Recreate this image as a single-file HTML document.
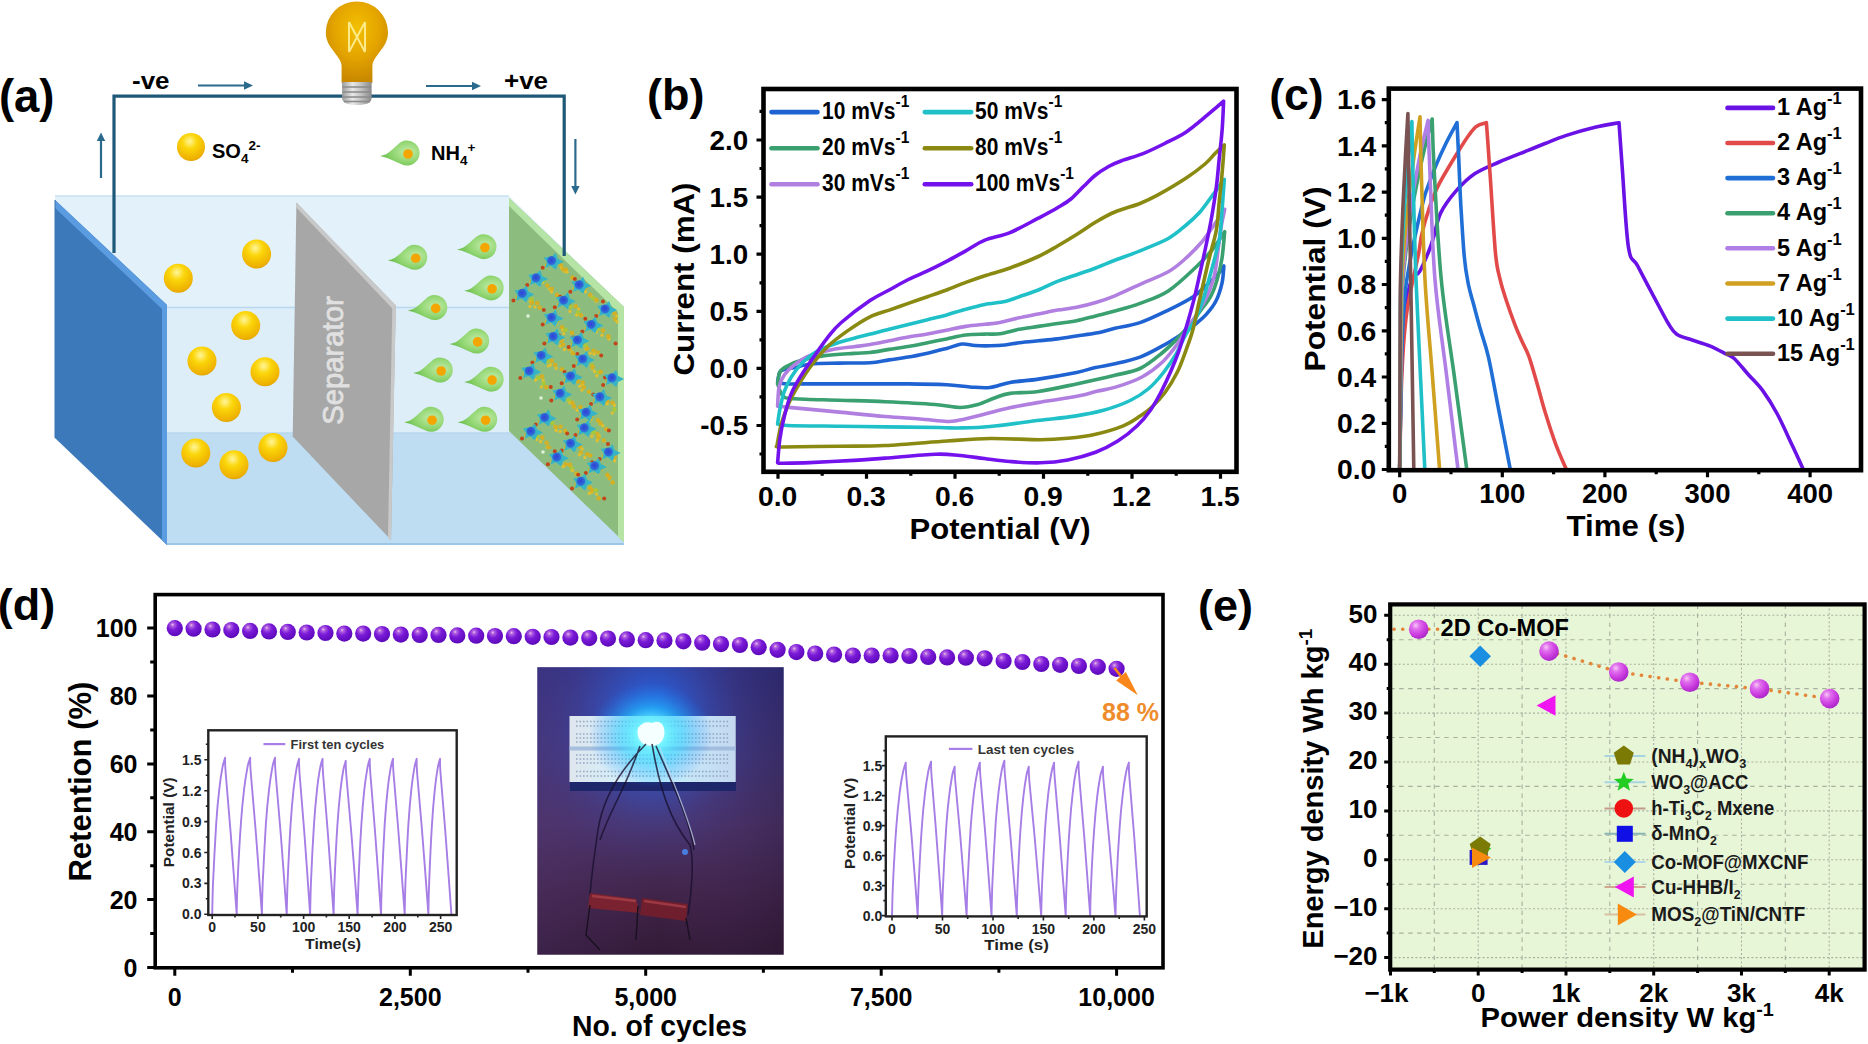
<!DOCTYPE html>
<html><head><meta charset="utf-8"><title>Figure</title>
<style>
html,body{margin:0;padding:0;background:#fff;}
body{width:1868px;height:1044px;overflow:hidden;}
svg{display:block;font-family:'Liberation Sans', Arial, Helvetica, sans-serif;}
</style></head>
<body>
<svg width="1868" height="1044" viewBox="0 0 1868 1044">
<defs>
<radialGradient id="gball" cx="0.45" cy="0.3" r="0.75">
  <stop offset="0" stop-color="#fff59a"/>
  <stop offset="0.35" stop-color="#fbd60a"/>
  <stop offset="0.85" stop-color="#eeb000"/>
  <stop offset="1" stop-color="#d49a00"/>
</radialGradient>
<radialGradient id="gdrop" cx="0.7" cy="0.45" r="0.7">
  <stop offset="0" stop-color="#c2ecA8"/>
  <stop offset="0.6" stop-color="#8ed46e"/>
  <stop offset="1" stop-color="#66bb4c"/>
</radialGradient>
<radialGradient id="gnode" cx="0.45" cy="0.45" r="0.6">
  <stop offset="0" stop-color="#3040d8"/>
  <stop offset="0.7" stop-color="#2f6ad6"/>
  <stop offset="1" stop-color="#3498d0"/>
</radialGradient>
<radialGradient id="gbulb" cx="0.5" cy="0.33" r="0.65">
  <stop offset="0" stop-color="#f2c000"/>
  <stop offset="0.55" stop-color="#e4a400"/>
  <stop offset="1" stop-color="#c88800"/>
</radialGradient>
<linearGradient id="gbase" x1="0" x2="1" y1="0" y2="0">
  <stop offset="0" stop-color="#9a9a9a"/>
  <stop offset="0.35" stop-color="#e8e8e8"/>
  <stop offset="0.6" stop-color="#c8c8c8"/>
  <stop offset="1" stop-color="#8a8a8a"/>
</linearGradient>

<radialGradient id="gpdot" cx="0.4" cy="0.32" r="0.7" fx="0.36" fy="0.28">
  <stop offset="0" stop-color="#f0c0e8"/>
  <stop offset="0.15" stop-color="#b060e0"/>
  <stop offset="0.45" stop-color="#7a1ad8"/>
  <stop offset="1" stop-color="#5a08b8"/>
</radialGradient>
<linearGradient id="gphoto" x1="0" x2="0" y1="0" y2="1">
  <stop offset="0" stop-color="#303080"/>
  <stop offset="0.3" stop-color="#403678"/>
  <stop offset="0.55" stop-color="#4a3266"/>
  <stop offset="0.8" stop-color="#402448"/>
  <stop offset="1" stop-color="#321a36"/>
</linearGradient>
<radialGradient id="gphoto2" cx="0.46" cy="0.2" r="0.55">
  <stop offset="0" stop-color="#1f80ff" stop-opacity="1"/>
  <stop offset="0.3" stop-color="#2a66e8" stop-opacity="0.6"/>
  <stop offset="0.65" stop-color="#3a50c0" stop-opacity="0.2"/>
  <stop offset="1" stop-color="#3a3080" stop-opacity="0"/>
</radialGradient>
<linearGradient id="gphoto3" x1="0" x2="1" y1="0" y2="0">
  <stop offset="0" stop-color="#5a3a80" stop-opacity="0.25"/>
  <stop offset="0.5" stop-color="#5a3a80" stop-opacity="0"/>
  <stop offset="1" stop-color="#201030" stop-opacity="0.25"/>
</linearGradient>
<linearGradient id="gboard" x1="0" x2="1" y1="0" y2="0">
  <stop offset="0" stop-color="#dfe6ee"/>
  <stop offset="0.3" stop-color="#d4eef8"/>
  <stop offset="0.5" stop-color="#bff4ff"/>
  <stop offset="0.75" stop-color="#c6e4f6"/>
  <stop offset="1" stop-color="#c4d8f0"/>
</linearGradient>
<radialGradient id="gglow" cx="0.5" cy="0.5" r="0.5">
  <stop offset="0" stop-color="#ffffff" stop-opacity="1"/>
  <stop offset="0.25" stop-color="#6ff4ff" stop-opacity="0.95"/>
  <stop offset="0.55" stop-color="#20c8ff" stop-opacity="0.5"/>
  <stop offset="1" stop-color="#1a80ff" stop-opacity="0"/>
</radialGradient>

<radialGradient id="gsph" cx="0.35" cy="0.3" r="0.8">
  <stop offset="0" stop-color="#f8c8f4"/>
  <stop offset="0.25" stop-color="#e070ee"/>
  <stop offset="0.6" stop-color="#cc3ee0"/>
  <stop offset="1" stop-color="#a020c0"/>
</radialGradient>
</defs>
<rect width="1868" height="1044" fill="#fff"/>
<path d="M55,196 H509 L624,307 V544 H167 L55,438 Z" fill="#e3f1fb"/>
<path d="M160,307 H624 V433 H160 Z" fill="#ddeef9"/>
<path d="M160,433 H624 V544 H167 Z" fill="#bedcf2"/>
<path d="M55,196 H509" stroke="#c6e1f3" stroke-width="1.5"/>
<path d="M160,307.5 H624 M160,433 H624" stroke="#b9d8ee" stroke-width="1.5"/>
<path d="M167,544 H624" stroke="#9cc6e6" stroke-width="2"/>
<path d="M55,200 L167,305 V545 L55,438 Z" fill="#3c79bb"/>
<path d="M55,200 L167,305 V545 L162,540 V309 L55,208 Z" fill="#5b9be0"/>
<path d="M55,200 L55,438" stroke="#3a74b0" stroke-width="1"/>
<path d="M296.4,202.6 L395.8,305.6 L391,540 L292.7,436.6 Z" fill="#a7a7a7"/>
<path d="M296.4,202.6 L395.8,305.6 L391,540 L388,537 L392.3,308.5 L296.2,207.5 Z" fill="#c9c9c9"/>
<text x="342.8" y="360.5" font-size="29.5" font-weight="normal" fill="#e0e0e0" text-anchor="middle" textLength="128.5" lengthAdjust="spacingAndGlyphs" transform="rotate(-90 342.8 360.5)" stroke="#e0e0e0" stroke-width="0.8">Separator</text>
<path d="M509,198 L624,307 V542 L509,431 Z" fill="#8dbd7e"/>
<path d="M509,198 L624,307 V542 L618,537 V312 L509,206 Z" fill="#b5e4a4"/>
<circle cx="555.3" cy="262.3" r="2.0" fill="#c24418"/>
<circle cx="560.9" cy="265.2" r="2.3" fill="#d4b024"/>
<circle cx="561.4" cy="267.7" r="1.7" fill="#e0c030"/>
<circle cx="563" cy="269.3" r="2.3" fill="#d4b024"/>
<circle cx="564.8" cy="271.6" r="1.7" fill="#e0c030"/>
<circle cx="566" cy="269.9" r="2.3" fill="#d4b024"/>
<circle cx="567.1" cy="272" r="1.7" fill="#e0c030"/>
<circle cx="572.4" cy="277.6" r="2.3" fill="#d4b024"/>
<circle cx="574.9" cy="279.1" r="2.0" fill="#c24418"/>
<circle cx="542.7" cy="267.7" r="2" fill="#c24418"/>
<circle cx="546.7" cy="264.7" r="1.8" fill="#d4b024"/>
<circle cx="538.6" cy="276.8" r="2.0" fill="#c24418"/>
<circle cx="543.8" cy="280.3" r="2.3" fill="#a8c83a"/>
<circle cx="542.3" cy="282.4" r="1.7" fill="#e0c030"/>
<circle cx="547.3" cy="285.5" r="2.3" fill="#d4b024"/>
<circle cx="549.4" cy="289.1" r="1.7" fill="#e0c030"/>
<circle cx="551.8" cy="289.1" r="2.3" fill="#d4b024"/>
<circle cx="551.5" cy="292" r="1.7" fill="#e0c030"/>
<circle cx="557" cy="294.9" r="2.3" fill="#d4b024"/>
<circle cx="560.1" cy="296.8" r="2.0" fill="#c24418"/>
<circle cx="527.2" cy="284.9" r="2" fill="#c24418"/>
<circle cx="531.2" cy="281.9" r="1.8" fill="#d4b024"/>
<circle cx="582.3" cy="284.8" r="2.0" fill="#c24418"/>
<circle cx="586" cy="287.3" r="2.3" fill="#d4b024"/>
<circle cx="585.4" cy="291.8" r="1.7" fill="#e0c030"/>
<circle cx="590.1" cy="295" r="2.3" fill="#d4b024"/>
<circle cx="592.2" cy="297" r="1.7" fill="#e0c030"/>
<circle cx="593.2" cy="298.1" r="2.3" fill="#a8c83a"/>
<circle cx="596.1" cy="301.3" r="1.7" fill="#e0c030"/>
<circle cx="596.4" cy="300" r="2.3" fill="#d4b024"/>
<circle cx="603" cy="301.5" r="2.0" fill="#c24418"/>
<circle cx="570.3" cy="291.8" r="2" fill="#c24418"/>
<circle cx="574.3" cy="288.8" r="1.8" fill="#d4b024"/>
<circle cx="524.5" cy="293.9" r="2.0" fill="#c24418"/>
<circle cx="531.8" cy="299.3" r="2.3" fill="#a8c83a"/>
<circle cx="530.3" cy="301.6" r="1.7" fill="#e0c030"/>
<circle cx="531.9" cy="302.8" r="2.3" fill="#d4b024"/>
<circle cx="530" cy="306.5" r="1.7" fill="#e0c030"/>
<circle cx="537.2" cy="303.1" r="2.3" fill="#d4b024"/>
<circle cx="535" cy="307" r="1.7" fill="#e0c030"/>
<circle cx="539.7" cy="307.6" r="2.3" fill="#d4b024"/>
<circle cx="543.8" cy="310.1" r="2.0" fill="#c24418"/>
<circle cx="513.4" cy="300.4" r="2" fill="#c24418"/>
<circle cx="517.4" cy="297.4" r="1.8" fill="#d4b024"/>
<circle cx="569.4" cy="303.1" r="2.0" fill="#c24418"/>
<circle cx="570.5" cy="306.8" r="2.3" fill="#a8c83a"/>
<circle cx="569.9" cy="311.4" r="1.7" fill="#e0c030"/>
<circle cx="575.6" cy="306.2" r="2.3" fill="#d4b024"/>
<circle cx="578.6" cy="308.9" r="1.7" fill="#e0c030"/>
<circle cx="577.9" cy="312.9" r="2.3" fill="#a8c83a"/>
<circle cx="576.6" cy="315.1" r="1.7" fill="#e0c030"/>
<circle cx="581" cy="315.3" r="2.3" fill="#d4b024"/>
<circle cx="585.3" cy="318.7" r="2.0" fill="#c24418"/>
<circle cx="554.8" cy="307.3" r="2" fill="#c24418"/>
<circle cx="558.8" cy="304.3" r="1.8" fill="#d4b024"/>
<circle cx="608.4" cy="310.1" r="2.0" fill="#c24418"/>
<circle cx="614.6" cy="313.5" r="2.3" fill="#d4b024"/>
<circle cx="616.8" cy="316.1" r="1.7" fill="#e0c030"/>
<circle cx="615.1" cy="319" r="2.3" fill="#d4b024"/>
<circle cx="617" cy="321.7" r="1.7" fill="#e0c030"/>
<circle cx="596.2" cy="316" r="2" fill="#c24418"/>
<circle cx="600.2" cy="313" r="1.8" fill="#d4b024"/>
<circle cx="555.9" cy="318.5" r="2.0" fill="#c24418"/>
<circle cx="557.6" cy="319.9" r="2.3" fill="#d4b024"/>
<circle cx="556.1" cy="324" r="1.7" fill="#e0c030"/>
<circle cx="562" cy="327.2" r="2.3" fill="#d4b024"/>
<circle cx="562.6" cy="330" r="1.7" fill="#e0c030"/>
<circle cx="565.4" cy="329.9" r="2.3" fill="#a8c83a"/>
<circle cx="563.8" cy="333.6" r="1.7" fill="#e0c030"/>
<circle cx="571.9" cy="332.7" r="2.3" fill="#d4b024"/>
<circle cx="573.4" cy="337.6" r="2.0" fill="#c24418"/>
<circle cx="542.7" cy="324.6" r="2" fill="#c24418"/>
<circle cx="546.7" cy="321.6" r="1.8" fill="#d4b024"/>
<circle cx="594" cy="323.4" r="2.0" fill="#c24418"/>
<circle cx="598" cy="328.9" r="2.3" fill="#a8c83a"/>
<circle cx="596.1" cy="332" r="1.7" fill="#e0c030"/>
<circle cx="603" cy="330.6" r="2.3" fill="#d4b024"/>
<circle cx="602.1" cy="335.3" r="1.7" fill="#e0c030"/>
<circle cx="608.4" cy="336.5" r="2.3" fill="#d4b024"/>
<circle cx="608.9" cy="339" r="1.7" fill="#e0c030"/>
<circle cx="608.3" cy="336.6" r="2.3" fill="#d4b024"/>
<circle cx="615.6" cy="343.4" r="2.0" fill="#c24418"/>
<circle cx="582.4" cy="331.5" r="2" fill="#c24418"/>
<circle cx="586.4" cy="328.5" r="1.8" fill="#d4b024"/>
<circle cx="559" cy="335.5" r="2.0" fill="#c24418"/>
<circle cx="561.5" cy="341.1" r="2.3" fill="#d4b024"/>
<circle cx="560.4" cy="346.1" r="1.7" fill="#e0c030"/>
<circle cx="563" cy="344.8" r="2.3" fill="#d4b024"/>
<circle cx="564.4" cy="349.5" r="1.7" fill="#e0c030"/>
<circle cx="569.4" cy="348.9" r="2.3" fill="#d4b024"/>
<circle cx="571.9" cy="351.9" r="1.7" fill="#e0c030"/>
<circle cx="572.9" cy="353.2" r="2.3" fill="#d4b024"/>
<circle cx="577.4" cy="354.1" r="2.0" fill="#c24418"/>
<circle cx="544.4" cy="343.6" r="2" fill="#c24418"/>
<circle cx="548.4" cy="340.6" r="1.8" fill="#d4b024"/>
<circle cx="582.5" cy="343.1" r="2.0" fill="#c24418"/>
<circle cx="585.4" cy="345.2" r="2.3" fill="#a8c83a"/>
<circle cx="585.9" cy="349.1" r="1.7" fill="#e0c030"/>
<circle cx="587.2" cy="348.6" r="2.3" fill="#d4b024"/>
<circle cx="590.2" cy="353.3" r="1.7" fill="#e0c030"/>
<circle cx="593.5" cy="350.7" r="2.3" fill="#d4b024"/>
<circle cx="594" cy="354" r="1.7" fill="#e0c030"/>
<circle cx="597.7" cy="352.5" r="2.3" fill="#d4b024"/>
<circle cx="601.2" cy="355.5" r="2.0" fill="#c24418"/>
<circle cx="568.6" cy="347" r="2" fill="#c24418"/>
<circle cx="572.6" cy="344" r="1.8" fill="#d4b024"/>
<circle cx="545.6" cy="356.7" r="2.0" fill="#c24418"/>
<circle cx="547.8" cy="361.1" r="2.3" fill="#a8c83a"/>
<circle cx="548.5" cy="365.9" r="1.7" fill="#e0c030"/>
<circle cx="551.7" cy="361" r="2.3" fill="#d4b024"/>
<circle cx="550.5" cy="365" r="1.7" fill="#e0c030"/>
<circle cx="555.2" cy="365.1" r="2.3" fill="#d4b024"/>
<circle cx="556.2" cy="368.4" r="1.7" fill="#e0c030"/>
<circle cx="561.8" cy="369.2" r="2.3" fill="#d4b024"/>
<circle cx="564.6" cy="371.9" r="2.0" fill="#c24418"/>
<circle cx="532.4" cy="362.5" r="2" fill="#c24418"/>
<circle cx="536.4" cy="359.5" r="1.8" fill="#d4b024"/>
<circle cx="586.3" cy="361.8" r="2.0" fill="#c24418"/>
<circle cx="592" cy="365.5" r="2.3" fill="#a8c83a"/>
<circle cx="592.5" cy="368.5" r="1.7" fill="#e0c030"/>
<circle cx="592.6" cy="366.9" r="2.3" fill="#d4b024"/>
<circle cx="594.6" cy="371.5" r="1.7" fill="#e0c030"/>
<circle cx="598.7" cy="372.5" r="2.3" fill="#a8c83a"/>
<circle cx="596.7" cy="375.8" r="1.7" fill="#e0c030"/>
<circle cx="600.7" cy="372.1" r="2.3" fill="#d4b024"/>
<circle cx="605" cy="377.5" r="2.0" fill="#c24418"/>
<circle cx="573.8" cy="366" r="2" fill="#c24418"/>
<circle cx="577.8" cy="363" r="1.8" fill="#d4b024"/>
<circle cx="533" cy="371.4" r="2.0" fill="#c24418"/>
<circle cx="538.2" cy="378" r="2.3" fill="#a8c83a"/>
<circle cx="535.6" cy="380.1" r="1.7" fill="#e0c030"/>
<circle cx="542.1" cy="376.6" r="2.3" fill="#d4b024"/>
<circle cx="543.3" cy="380.4" r="1.7" fill="#e0c030"/>
<circle cx="543.6" cy="383.7" r="2.3" fill="#a8c83a"/>
<circle cx="541.4" cy="387.1" r="1.7" fill="#e0c030"/>
<circle cx="546.2" cy="387.2" r="2.3" fill="#d4b024"/>
<circle cx="550.8" cy="387.1" r="2.0" fill="#c24418"/>
<circle cx="520.3" cy="378" r="2" fill="#c24418"/>
<circle cx="524.3" cy="375" r="1.8" fill="#d4b024"/>
<circle cx="572.6" cy="378.2" r="2.0" fill="#c24418"/>
<circle cx="578" cy="381.5" r="2.3" fill="#d4b024"/>
<circle cx="579.8" cy="386.3" r="1.7" fill="#e0c030"/>
<circle cx="582.7" cy="382.6" r="2.3" fill="#d4b024"/>
<circle cx="582.6" cy="385.2" r="1.7" fill="#e0c030"/>
<circle cx="583.8" cy="387.3" r="2.3" fill="#d4b024"/>
<circle cx="581.9" cy="390.1" r="1.7" fill="#e0c030"/>
<circle cx="588.9" cy="391.7" r="2.3" fill="#d4b024"/>
<circle cx="593.3" cy="394.6" r="2.0" fill="#c24418"/>
<circle cx="561.7" cy="383.2" r="2" fill="#c24418"/>
<circle cx="565.7" cy="380.2" r="1.8" fill="#d4b024"/>
<circle cx="616.9" cy="378.7" r="2.0" fill="#c24418"/>
<circle cx="603.1" cy="384.9" r="2" fill="#c24418"/>
<circle cx="607.1" cy="381.9" r="1.8" fill="#d4b024"/>
<circle cx="564.3" cy="396.6" r="2.0" fill="#c24418"/>
<circle cx="569" cy="400.2" r="2.3" fill="#a8c83a"/>
<circle cx="569.9" cy="402.9" r="1.7" fill="#e0c030"/>
<circle cx="572.5" cy="402.9" r="2.3" fill="#d4b024"/>
<circle cx="573.3" cy="407.1" r="1.7" fill="#e0c030"/>
<circle cx="574.2" cy="406.6" r="2.3" fill="#d4b024"/>
<circle cx="577.1" cy="410.3" r="1.7" fill="#e0c030"/>
<circle cx="580.3" cy="407.1" r="2.3" fill="#d4b024"/>
<circle cx="584.5" cy="413" r="2.0" fill="#c24418"/>
<circle cx="551.3" cy="400.4" r="2" fill="#c24418"/>
<circle cx="555.3" cy="397.4" r="1.8" fill="#d4b024"/>
<circle cx="603.2" cy="396.1" r="2.0" fill="#c24418"/>
<circle cx="607.3" cy="401.8" r="2.3" fill="#d4b024"/>
<circle cx="607.2" cy="403.9" r="1.7" fill="#e0c030"/>
<circle cx="612.5" cy="402.7" r="2.3" fill="#d4b024"/>
<circle cx="614.3" cy="405.2" r="1.7" fill="#e0c030"/>
<circle cx="614.4" cy="409.6" r="2.3" fill="#a8c83a"/>
<circle cx="612.3" cy="413.1" r="1.7" fill="#e0c030"/>
<circle cx="591" cy="403.9" r="2" fill="#c24418"/>
<circle cx="595" cy="400.9" r="1.8" fill="#d4b024"/>
<circle cx="589.9" cy="416" r="2.0" fill="#c24418"/>
<circle cx="592.1" cy="415.6" r="2.3" fill="#d4b024"/>
<circle cx="590.8" cy="419.8" r="1.7" fill="#e0c030"/>
<circle cx="598" cy="420.4" r="2.3" fill="#d4b024"/>
<circle cx="600.1" cy="424.1" r="1.7" fill="#e0c030"/>
<circle cx="600.5" cy="423.1" r="2.3" fill="#d4b024"/>
<circle cx="602.9" cy="425.7" r="1.7" fill="#e0c030"/>
<circle cx="606.4" cy="429.3" r="2.3" fill="#d4b024"/>
<circle cx="608.9" cy="430.6" r="2.0" fill="#c24418"/>
<circle cx="577.2" cy="419.4" r="2" fill="#c24418"/>
<circle cx="581.2" cy="416.4" r="1.8" fill="#d4b024"/>
<circle cx="547.4" cy="419.1" r="2.0" fill="#c24418"/>
<circle cx="552.3" cy="422.7" r="2.3" fill="#a8c83a"/>
<circle cx="555.1" cy="426.3" r="1.7" fill="#e0c030"/>
<circle cx="555.7" cy="427" r="2.3" fill="#d4b024"/>
<circle cx="556.1" cy="430.5" r="1.7" fill="#e0c030"/>
<circle cx="560.6" cy="426.7" r="2.3" fill="#d4b024"/>
<circle cx="560.1" cy="431.5" r="1.7" fill="#e0c030"/>
<circle cx="565.3" cy="431" r="2.3" fill="#d4b024"/>
<circle cx="567.2" cy="433.6" r="2.0" fill="#c24418"/>
<circle cx="535.8" cy="424.6" r="2" fill="#c24418"/>
<circle cx="539.8" cy="421.6" r="1.8" fill="#d4b024"/>
<circle cx="588" cy="430.8" r="2.0" fill="#c24418"/>
<circle cx="593.6" cy="432.4" r="2.3" fill="#a8c83a"/>
<circle cx="591.8" cy="436.3" r="1.7" fill="#e0c030"/>
<circle cx="597.5" cy="434" r="2.3" fill="#d4b024"/>
<circle cx="599.2" cy="436" r="1.7" fill="#e0c030"/>
<circle cx="598.3" cy="437.8" r="2.3" fill="#d4b024"/>
<circle cx="597.2" cy="440.8" r="1.7" fill="#e0c030"/>
<circle cx="603.8" cy="440.5" r="2.3" fill="#d4b024"/>
<circle cx="608" cy="443.9" r="2.0" fill="#c24418"/>
<circle cx="575.5" cy="434.9" r="2" fill="#c24418"/>
<circle cx="579.5" cy="431.9" r="1.8" fill="#d4b024"/>
<circle cx="534.8" cy="431.5" r="2.0" fill="#c24418"/>
<circle cx="537.3" cy="436.2" r="2.3" fill="#a8c83a"/>
<circle cx="536.6" cy="439.4" r="1.7" fill="#e0c030"/>
<circle cx="542.4" cy="437.6" r="2.3" fill="#d4b024"/>
<circle cx="540.6" cy="441.5" r="1.7" fill="#e0c030"/>
<circle cx="546.6" cy="442.8" r="2.3" fill="#d4b024"/>
<circle cx="547.3" cy="447.4" r="1.7" fill="#e0c030"/>
<circle cx="548.7" cy="447.2" r="2.3" fill="#d4b024"/>
<circle cx="554.8" cy="451.3" r="2.0" fill="#c24418"/>
<circle cx="522" cy="438.4" r="2" fill="#c24418"/>
<circle cx="526" cy="435.4" r="1.8" fill="#d4b024"/>
<circle cx="573.7" cy="443.8" r="2.0" fill="#c24418"/>
<circle cx="579.9" cy="446.6" r="2.3" fill="#d4b024"/>
<circle cx="582.2" cy="449" r="1.7" fill="#e0c030"/>
<circle cx="580.9" cy="452.5" r="2.3" fill="#d4b024"/>
<circle cx="579.5" cy="454.8" r="1.7" fill="#e0c030"/>
<circle cx="587.1" cy="454.3" r="2.3" fill="#d4b024"/>
<circle cx="584.8" cy="457.5" r="1.7" fill="#e0c030"/>
<circle cx="590.2" cy="455.5" r="2.3" fill="#d4b024"/>
<circle cx="592.1" cy="462.2" r="2.0" fill="#c24418"/>
<circle cx="561.7" cy="450.4" r="2" fill="#c24418"/>
<circle cx="565.7" cy="447.4" r="1.8" fill="#d4b024"/>
<circle cx="614" cy="455.8" r="2.0" fill="#c24418"/>
<circle cx="614.6" cy="456.8" r="2.3" fill="#d4b024"/>
<circle cx="614.6" cy="460.8" r="1.7" fill="#e0c030"/>
<circle cx="599.6" cy="459.1" r="2" fill="#c24418"/>
<circle cx="603.6" cy="456.1" r="1.8" fill="#d4b024"/>
<circle cx="559.4" cy="457" r="2.0" fill="#c24418"/>
<circle cx="565.8" cy="464.3" r="2.3" fill="#d4b024"/>
<circle cx="563.4" cy="466.5" r="1.7" fill="#e0c030"/>
<circle cx="570" cy="464.9" r="2.3" fill="#d4b024"/>
<circle cx="571.6" cy="467.9" r="1.7" fill="#e0c030"/>
<circle cx="571.8" cy="468.5" r="2.3" fill="#a8c83a"/>
<circle cx="572.4" cy="470.6" r="1.7" fill="#e0c030"/>
<circle cx="576.5" cy="473.5" r="2.3" fill="#d4b024"/>
<circle cx="578.2" cy="474.8" r="2.0" fill="#c24418"/>
<circle cx="547.9" cy="464.2" r="2" fill="#c24418"/>
<circle cx="551.9" cy="461.2" r="1.8" fill="#d4b024"/>
<circle cx="599.5" cy="466.7" r="2.0" fill="#c24418"/>
<circle cx="601.1" cy="468.8" r="2.3" fill="#d4b024"/>
<circle cx="598.2" cy="473.5" r="1.7" fill="#e0c030"/>
<circle cx="607.3" cy="474.9" r="2.3" fill="#d4b024"/>
<circle cx="609.4" cy="478.7" r="1.7" fill="#e0c030"/>
<circle cx="609.5" cy="477.6" r="2.3" fill="#d4b024"/>
<circle cx="612.4" cy="482.1" r="1.7" fill="#e0c030"/>
<circle cx="612.6" cy="482.5" r="2.3" fill="#d4b024"/>
<circle cx="585.8" cy="472.9" r="2" fill="#c24418"/>
<circle cx="589.8" cy="469.9" r="1.8" fill="#d4b024"/>
<circle cx="586" cy="482.2" r="2.0" fill="#c24418"/>
<circle cx="590.1" cy="487.9" r="2.3" fill="#d4b024"/>
<circle cx="591.7" cy="492.2" r="1.7" fill="#e0c030"/>
<circle cx="591.9" cy="490.4" r="2.3" fill="#d4b024"/>
<circle cx="589.3" cy="493.5" r="1.7" fill="#e0c030"/>
<circle cx="595.9" cy="490.2" r="2.3" fill="#a8c83a"/>
<circle cx="596.7" cy="494.1" r="1.7" fill="#e0c030"/>
<circle cx="598.7" cy="498.2" r="2.3" fill="#d4b024"/>
<circle cx="604.2" cy="498.5" r="2.0" fill="#c24418"/>
<circle cx="572" cy="488.4" r="2" fill="#c24418"/>
<circle cx="576" cy="485.4" r="1.8" fill="#d4b024"/>
<path d="M550.7,257.7 l5,-5 l2,6 l6,3 l-6,3 l-2,5 l-5,-4 l-5,2 l1,-6 l-3,-4 l5,-1 Z" fill="#35b4c8"/>
<circle cx="551.7" cy="260.7" r="4.6" fill="url(#gnode)"/>
<path d="M535.2,274.9 l5,-5 l2,6 l6,3 l-6,3 l-2,5 l-5,-4 l-5,2 l1,-6 l-3,-4 l5,-1 Z" fill="#35b4c8"/>
<circle cx="536.2" cy="277.9" r="4.6" fill="url(#gnode)"/>
<path d="M578.3,281.8 l5,-5 l2,6 l6,3 l-6,3 l-2,5 l-5,-4 l-5,2 l1,-6 l-3,-4 l5,-1 Z" fill="#35b4c8"/>
<circle cx="579.3" cy="284.8" r="4.6" fill="url(#gnode)"/>
<path d="M521.4,290.4 l5,-5 l2,6 l6,3 l-6,3 l-2,5 l-5,-4 l-5,2 l1,-6 l-3,-4 l5,-1 Z" fill="#35b4c8"/>
<circle cx="522.4" cy="293.4" r="4.6" fill="url(#gnode)"/>
<path d="M562.8,297.3 l5,-5 l2,6 l6,3 l-6,3 l-2,5 l-5,-4 l-5,2 l1,-6 l-3,-4 l5,-1 Z" fill="#35b4c8"/>
<circle cx="563.8" cy="300.3" r="4.6" fill="url(#gnode)"/>
<path d="M604.2,306 l5,-5 l2,6 l6,3 l-6,3 l-2,5 l-5,-4 l-5,2 l1,-6 l-3,-4 l5,-1 Z" fill="#35b4c8"/>
<circle cx="605.2" cy="309" r="4.6" fill="url(#gnode)"/>
<path d="M550.7,314.6 l5,-5 l2,6 l6,3 l-6,3 l-2,5 l-5,-4 l-5,2 l1,-6 l-3,-4 l5,-1 Z" fill="#35b4c8"/>
<circle cx="551.7" cy="317.6" r="4.6" fill="url(#gnode)"/>
<path d="M590.4,321.5 l5,-5 l2,6 l6,3 l-6,3 l-2,5 l-5,-4 l-5,2 l1,-6 l-3,-4 l5,-1 Z" fill="#35b4c8"/>
<circle cx="591.4" cy="324.5" r="4.6" fill="url(#gnode)"/>
<path d="M552.4,333.6 l5,-5 l2,6 l6,3 l-6,3 l-2,5 l-5,-4 l-5,2 l1,-6 l-3,-4 l5,-1 Z" fill="#35b4c8"/>
<circle cx="553.4" cy="336.6" r="4.6" fill="url(#gnode)"/>
<path d="M576.6,337 l5,-5 l2,6 l6,3 l-6,3 l-2,5 l-5,-4 l-5,2 l1,-6 l-3,-4 l5,-1 Z" fill="#35b4c8"/>
<circle cx="577.6" cy="340" r="4.6" fill="url(#gnode)"/>
<path d="M540.4,352.5 l5,-5 l2,6 l6,3 l-6,3 l-2,5 l-5,-4 l-5,2 l1,-6 l-3,-4 l5,-1 Z" fill="#35b4c8"/>
<circle cx="541.4" cy="355.5" r="4.6" fill="url(#gnode)"/>
<path d="M581.8,356 l5,-5 l2,6 l6,3 l-6,3 l-2,5 l-5,-4 l-5,2 l1,-6 l-3,-4 l5,-1 Z" fill="#35b4c8"/>
<circle cx="582.8" cy="359" r="4.6" fill="url(#gnode)"/>
<path d="M528.3,368 l5,-5 l2,6 l6,3 l-6,3 l-2,5 l-5,-4 l-5,2 l1,-6 l-3,-4 l5,-1 Z" fill="#35b4c8"/>
<circle cx="529.3" cy="371" r="4.6" fill="url(#gnode)"/>
<path d="M569.7,373.2 l5,-5 l2,6 l6,3 l-6,3 l-2,5 l-5,-4 l-5,2 l1,-6 l-3,-4 l5,-1 Z" fill="#35b4c8"/>
<circle cx="570.7" cy="376.2" r="4.6" fill="url(#gnode)"/>
<path d="M611.1,374.9 l5,-5 l2,6 l6,3 l-6,3 l-2,5 l-5,-4 l-5,2 l1,-6 l-3,-4 l5,-1 Z" fill="#35b4c8"/>
<circle cx="612.1" cy="377.9" r="4.6" fill="url(#gnode)"/>
<path d="M559.3,390.4 l5,-5 l2,6 l6,3 l-6,3 l-2,5 l-5,-4 l-5,2 l1,-6 l-3,-4 l5,-1 Z" fill="#35b4c8"/>
<circle cx="560.3" cy="393.4" r="4.6" fill="url(#gnode)"/>
<path d="M599,393.9 l5,-5 l2,6 l6,3 l-6,3 l-2,5 l-5,-4 l-5,2 l1,-6 l-3,-4 l5,-1 Z" fill="#35b4c8"/>
<circle cx="600" cy="396.9" r="4.6" fill="url(#gnode)"/>
<path d="M585.2,409.4 l5,-5 l2,6 l6,3 l-6,3 l-2,5 l-5,-4 l-5,2 l1,-6 l-3,-4 l5,-1 Z" fill="#35b4c8"/>
<circle cx="586.2" cy="412.4" r="4.6" fill="url(#gnode)"/>
<path d="M543.8,414.6 l5,-5 l2,6 l6,3 l-6,3 l-2,5 l-5,-4 l-5,2 l1,-6 l-3,-4 l5,-1 Z" fill="#35b4c8"/>
<circle cx="544.8" cy="417.6" r="4.6" fill="url(#gnode)"/>
<path d="M583.5,424.9 l5,-5 l2,6 l6,3 l-6,3 l-2,5 l-5,-4 l-5,2 l1,-6 l-3,-4 l5,-1 Z" fill="#35b4c8"/>
<circle cx="584.5" cy="427.9" r="4.6" fill="url(#gnode)"/>
<path d="M530,428.4 l5,-5 l2,6 l6,3 l-6,3 l-2,5 l-5,-4 l-5,2 l1,-6 l-3,-4 l5,-1 Z" fill="#35b4c8"/>
<circle cx="531" cy="431.4" r="4.6" fill="url(#gnode)"/>
<path d="M569.7,440.4 l5,-5 l2,6 l6,3 l-6,3 l-2,5 l-5,-4 l-5,2 l1,-6 l-3,-4 l5,-1 Z" fill="#35b4c8"/>
<circle cx="570.7" cy="443.4" r="4.6" fill="url(#gnode)"/>
<path d="M607.6,449.1 l5,-5 l2,6 l6,3 l-6,3 l-2,5 l-5,-4 l-5,2 l1,-6 l-3,-4 l5,-1 Z" fill="#35b4c8"/>
<circle cx="608.6" cy="452.1" r="4.6" fill="url(#gnode)"/>
<path d="M555.9,454.2 l5,-5 l2,6 l6,3 l-6,3 l-2,5 l-5,-4 l-5,2 l1,-6 l-3,-4 l5,-1 Z" fill="#35b4c8"/>
<circle cx="556.9" cy="457.2" r="4.6" fill="url(#gnode)"/>
<path d="M593.8,462.9 l5,-5 l2,6 l6,3 l-6,3 l-2,5 l-5,-4 l-5,2 l1,-6 l-3,-4 l5,-1 Z" fill="#35b4c8"/>
<circle cx="594.8" cy="465.9" r="4.6" fill="url(#gnode)"/>
<path d="M580,478.4 l5,-5 l2,6 l6,3 l-6,3 l-2,5 l-5,-4 l-5,2 l1,-6 l-3,-4 l5,-1 Z" fill="#35b4c8"/>
<circle cx="581" cy="481.4" r="4.6" fill="url(#gnode)"/>
<circle cx="528" cy="316" r="1.8" fill="#f4fff0" opacity="0.8"/>
<circle cx="541" cy="398" r="1.8" fill="#f4fff0" opacity="0.8"/>
<circle cx="543" cy="452" r="1.8" fill="#f4fff0" opacity="0.8"/>
<circle cx="178.3" cy="278.3" r="14.5" fill="url(#gball)"/>
<circle cx="256.6" cy="253.9" r="14.5" fill="url(#gball)"/>
<circle cx="245.7" cy="325.6" r="14.5" fill="url(#gball)"/>
<circle cx="202" cy="361" r="14.5" fill="url(#gball)"/>
<circle cx="265" cy="371.8" r="14.5" fill="url(#gball)"/>
<circle cx="226.4" cy="407.5" r="14.5" fill="url(#gball)"/>
<circle cx="195.8" cy="453" r="14.5" fill="url(#gball)"/>
<circle cx="234" cy="464.7" r="14.5" fill="url(#gball)"/>
<circle cx="273" cy="447.6" r="14.5" fill="url(#gball)"/>
<path d="M387.7,260.2 C396.7,259.2 401.7,251.2 405.7,248.7 A12.5,12.5 0 1,1 408.7,268.2 C403.7,266.2 396.7,262.2 387.7,260.2 Z" fill="url(#gdrop)"/><circle cx="415.7" cy="258.2" r="4.8" fill="#f4a600"/>
<path d="M456.9,249.6 C465.9,248.6 470.9,240.6 474.9,238.1 A12.5,12.5 0 1,1 477.9,257.6 C472.9,255.6 465.9,251.6 456.9,249.6 Z" fill="url(#gdrop)"/><circle cx="484.9" cy="247.6" r="4.8" fill="#f4a600"/>
<path d="M464.1,290.8 C473.1,289.8 478.1,281.8 482.1,279.3 A12.5,12.5 0 1,1 485.1,298.8 C480.1,296.8 473.1,292.8 464.1,290.8 Z" fill="url(#gdrop)"/><circle cx="492.1" cy="288.8" r="4.8" fill="#f4a600"/>
<path d="M407.7,310.4 C416.7,309.4 421.7,301.4 425.7,298.9 A12.5,12.5 0 1,1 428.7,318.4 C423.7,316.4 416.7,312.4 407.7,310.4 Z" fill="url(#gdrop)"/><circle cx="435.7" cy="308.4" r="4.8" fill="#f4a600"/>
<path d="M449.6,343.9 C458.6,342.9 463.6,334.9 467.6,332.4 A12.5,12.5 0 1,1 470.6,351.9 C465.6,349.9 458.6,345.9 449.6,343.9 Z" fill="url(#gdrop)"/><circle cx="477.6" cy="341.9" r="4.8" fill="#f4a600"/>
<path d="M413.2,373 C422.2,372 427.2,364 431.2,361.5 A12.5,12.5 0 1,1 434.2,381 C429.2,379 422.2,375 413.2,373 Z" fill="url(#gdrop)"/><circle cx="441.2" cy="371" r="4.8" fill="#f4a600"/>
<path d="M464.1,382.1 C473.1,381.1 478.1,373.1 482.1,370.6 A12.5,12.5 0 1,1 485.1,390.1 C480.1,388.1 473.1,384.1 464.1,382.1 Z" fill="url(#gdrop)"/><circle cx="492.1" cy="380.1" r="4.8" fill="#f4a600"/>
<path d="M404.1,422.2 C413.1,421.2 418.1,413.2 422.1,410.7 A12.5,12.5 0 1,1 425.1,430.2 C420.1,428.2 413.1,424.2 404.1,422.2 Z" fill="url(#gdrop)"/><circle cx="432.1" cy="420.2" r="4.8" fill="#f4a600"/>
<path d="M457.6,422.2 C466.6,421.2 471.6,413.2 475.6,410.7 A12.5,12.5 0 1,1 478.6,430.2 C473.6,428.2 466.6,424.2 457.6,422.2 Z" fill="url(#gdrop)"/><circle cx="485.6" cy="420.2" r="4.8" fill="#f4a600"/>
<path d="M114,253 V96.2 H564.2 V256" fill="none" stroke="#1e5878" stroke-width="3.2"/>
<path d="M101,178 V139 M198,85.5 H246 M426,86 H474 M575.4,139 V188" stroke="#2a6a8c" stroke-width="2.2" fill="none"/>
<path d="M101,132.5 L96.8,141 H105.2 Z M253,85.5 L244,81.3 V89.7 Z M481,86 L472,81.8 V90.2 Z M575.4,194.5 L571.2,186 H579.6 Z" fill="#2a6a8c"/>
<text x="132" y="88.5" font-size="23.5" font-weight="bold" fill="#000" textLength="37.5" lengthAdjust="spacingAndGlyphs">-ve</text>
<text x="504" y="88.5" font-size="23.5" font-weight="bold" fill="#000" textLength="44" lengthAdjust="spacingAndGlyphs">+ve</text>
<circle cx="191" cy="147" r="14" fill="url(#gball)"/>
<text x="212" y="158.3" font-size="20" font-weight="bold">SO<tspan font-size="13.5" dy="5">4</tspan><tspan font-size="13.5" dy="-13">2-</tspan></text>
<path d="M380,156 C389,155 394,147 398,144.5 A12.5,12.5 0 1,1 401,164 C396,162 389,158 380,156 Z" fill="url(#gdrop)"/><circle cx="408" cy="154" r="4.8" fill="#f4a600"/>
<text x="431" y="160" font-size="20" font-weight="bold">NH<tspan font-size="13.5" dy="5">4</tspan><tspan font-size="13.5" dy="-13">+</tspan></text>
<path d="M341.6,83 V66 C341.6,60 336,55 330.5,47 C327,42 325.8,37 325.8,32.5 A31,31 0 1,1 388,32.5 C388,37 386.8,42 383.3,47 C377.8,55 372.4,60 372.4,66 V83 Z" fill="url(#gbulb)"/>
<path d="M349,22 L365,52 M365,22 L349,52 M349,22 V52 M365,22 V52" stroke="#fff3a0" stroke-width="2" fill="none" opacity="0.85"/>
<path d="M342.1,82 H371.6 V98 C371.6,103 366,105 357,105 C348,105 342.1,103 342.1,98 Z" fill="url(#gbase)"/>
<path d="M342.5,87 H371.3 M342.5,92 H371.3 M342.5,97 H371.3 M344,101.5 H370" stroke="#8a8a8a" stroke-width="1.4"/>
<text x="-1.1" y="112.3" font-size="45.5" font-weight="bold" fill="#000">(a)</text>
<path d="M777.6,382.4 C778,380.7 778.5,374.2 779.9,372 C781.3,369.8 783.5,369.8 786,369 C788.5,368.2 790.3,368.4 794.7,367.5 C799.1,366.6 805.1,364.5 812.5,363.8 C819.9,363.1 829.7,363.3 839.3,363.1 C848.9,362.9 861.7,363.3 870,362.8 C878.3,362.3 882.8,360.8 889.2,359.9 C895.6,358.9 901.9,358.2 908.3,357.1 C914.7,356 921.1,354.6 927.5,353.2 C933.9,351.8 940.9,349.9 946.6,348.4 C952.4,346.9 957.3,344.5 962,344 C966.7,343.5 970.3,345.2 975,345.5 C979.7,345.8 985,345.9 990,345.8 C995,345.7 1000.1,345.5 1005,345 C1009.9,344.5 1013.7,343.4 1019.2,342.7 C1024.8,342 1031.9,341.4 1038.3,340.8 C1044.7,340.2 1051.1,339.7 1057.5,338.9 C1063.9,338.1 1070.2,337 1076.6,336 C1083,335 1089.4,334.4 1095.8,333.1 C1102.2,331.8 1107.5,330.1 1114.9,328.3 C1122.3,326.6 1131.1,325.6 1140,322.6 C1148.9,319.6 1159.4,314.4 1168.3,310.1 C1177.2,305.8 1186.8,300.9 1193.2,296.7 C1199.6,292.5 1202.5,289 1206.7,285.2 C1210.9,281.4 1215.3,276.9 1218.2,273.7 C1221.1,270.5 1223,267.3 1223.9,266 L1223.9,266 C1223.6,268.9 1223.3,277.4 1222,283.2 C1220.7,288.9 1218.8,295.4 1216.2,300.5 C1213.7,305.6 1210.2,309.9 1206.7,313.9 C1203.2,317.9 1199.5,320.9 1195.2,324.4 C1190.9,327.8 1186.4,331.1 1181,334.6 C1175.6,338.1 1169.8,341.9 1163,345.6 C1156.2,349.4 1148,354.1 1140,357.1 C1132,360.1 1122.3,362.1 1114.9,363.8 C1107.5,365.5 1102,366.1 1095.6,367.5 C1089.2,368.9 1086.1,370.5 1076.6,372.4 C1067,374.3 1049.4,377.4 1038.3,379.1 C1027.2,380.8 1018,381.1 1010,382.5 C1002,383.9 996.7,386.8 990,387.5 C983.3,388.2 977.2,387.4 970,387 C962.8,386.6 956.9,385.3 946.6,384.8 C936.3,384.3 921.1,384 908.3,383.9 C895.5,383.8 887.7,383.9 870,383.9 C852.3,383.9 816.1,383.9 802.1,383.9 C788.1,383.9 789.9,384.1 785.8,383.9 C781.7,383.6 779,382.6 777.6,382.4" fill="none" stroke="#1f62d2" stroke-width="3.6" stroke-linejoin="round" stroke-linecap="round"/>
<path d="M777.6,383.9 C778,381.9 778.3,375 779.9,372 C781.5,369 783.6,368 787.3,366 C791,364 795.9,361.8 802.1,360.1 C808.3,358.4 815.7,356.7 824.4,355.6 C833.1,354.5 846.5,353.9 854.1,353.4 C861.7,352.9 864.1,353.2 870,352.5 C875.9,351.8 882.8,350.4 889.2,349.4 C895.6,348.4 901.9,347.6 908.3,346.5 C914.7,345.4 921.1,344 927.5,342.7 C933.9,341.4 940.2,340.2 946.6,338.9 C953,337.6 959.4,335.8 965.8,335 C972.2,334.2 979.2,334.3 984.9,334.1 C990.6,333.9 994.3,334.6 1000,333.8 C1005.7,333 1012.8,330.5 1019.2,329.3 C1025.6,328.1 1031.9,327.4 1038.3,326.4 C1044.7,325.4 1051.1,324.4 1057.5,323.5 C1063.9,322.6 1070.2,322 1076.6,320.7 C1083,319.4 1089.4,317.5 1095.8,315.9 C1102.2,314.3 1107.5,313.2 1114.9,311.1 C1122.3,309 1131.1,306.8 1140,303.4 C1148.9,300 1158.8,297.1 1168.3,290.9 C1177.8,284.7 1189.8,272.8 1197.1,266 C1204.4,259.2 1207.4,255.7 1212,250 C1216.6,244.3 1222.6,234.8 1224.7,231.7 L1224.7,231.7 C1224.2,236.1 1223.2,250.4 1222,258.3 C1220.8,266.2 1219.1,273 1217.2,279.4 C1215.3,285.8 1213.2,291.6 1210.5,296.7 C1207.8,301.8 1204.7,305 1200.9,310.1 C1197.1,315.2 1191.4,322.6 1187.5,327.3 C1183.6,332 1181.8,334.2 1177.5,338.5 C1173.2,342.8 1168.2,348 1162,353 C1155.8,358 1147.8,364.8 1140,368.5 C1132.2,372.2 1125.5,372.7 1114.9,375.3 C1104.3,377.9 1089.4,381.2 1076.6,383.9 C1063.8,386.6 1049.4,389.9 1038.3,391.5 C1027.2,393.1 1017.3,392.3 1010,393.4 C1002.7,394.5 999.8,396.1 994.5,398 C989.2,399.9 983.8,402.9 978,404.5 C972.2,406.1 967.2,407.5 960,407.5 C952.8,407.5 947.5,405.5 935,404.5 C922.5,403.5 901,402.4 885,401.7 C869,401 854.3,400.7 839.3,400.2 C824.2,399.7 804.1,399.4 794.7,398.7 C785.3,398 785.9,398.5 783,396 C780.1,393.5 778.5,385.9 777.6,383.9" fill="none" stroke="#3aa070" stroke-width="3.6" stroke-linejoin="round" stroke-linecap="round"/>
<path d="M777.6,406.1 C777.9,402.9 778,392 779.1,386.8 C780.2,381.6 781.7,378.7 784.3,375 C786.9,371.3 790.5,367.8 794.7,364.6 C798.9,361.4 803.4,358.1 809.6,355.6 C815.8,353.1 824.4,351.2 831.8,349.7 C839.2,348.2 847.7,347.5 854.1,346.7 C860.5,345.9 864.1,345.6 870,344.6 C875.9,343.6 882.8,342.1 889.2,340.8 C895.6,339.5 901.9,338.1 908.3,337 C914.7,335.9 921.1,335.2 927.5,334.1 C933.9,333 940.2,331.5 946.6,330.2 C953,328.9 959.4,327.4 965.8,326.4 C972.2,325.4 979.2,324.9 984.9,324.3 C990.6,323.7 994.3,323.6 1000,322.5 C1005.7,321.4 1012.8,319.2 1019.2,317.8 C1025.6,316.4 1031.9,315.3 1038.3,314 C1044.7,312.7 1051.1,311.2 1057.5,310.1 C1063.9,309 1070.2,308.6 1076.6,307.3 C1083,306 1089.4,304.4 1095.8,302.5 C1102.2,300.6 1107.5,298.8 1114.9,295.8 C1122.3,292.8 1131.1,288.3 1140,284.3 C1148.9,280.3 1160.8,275.9 1168.3,271.7 C1175.8,267.5 1179.6,263.8 1185,259 C1190.4,254.2 1196.4,248.2 1200.9,243 C1205.4,237.8 1208,233.6 1212,228 C1216,222.4 1222.6,212.4 1224.7,209.3 L1224.7,209.3 C1224.2,211.9 1222.6,218.4 1221.5,225 C1220.4,231.6 1219.4,240.3 1218.2,248.7 C1217,257.1 1216.2,267.6 1214.3,275.6 C1212.4,283.6 1209.6,290.3 1206.7,296.7 C1203.8,303.1 1200.6,308.1 1197.1,313.9 C1193.6,319.6 1189.1,325.8 1185.6,331.2 C1182.1,336.6 1179.9,340.8 1176,346 C1172.1,351.2 1167.7,357.3 1162,362.5 C1156.3,367.7 1149.6,372.9 1142,377 C1134.4,381.1 1124.1,384.5 1116.4,386.9 C1108.7,389.3 1101.6,390.1 1095.8,391.5 C1090,392.9 1088.1,394 1081.7,395.3 C1075.3,396.6 1064.5,398.4 1057.5,399.5 C1050.5,400.6 1048.1,400.8 1040,402.2 C1031.9,403.6 1017.9,406 1008.7,408 C999.5,410 993.1,412 985,414 C976.9,416 966.4,418.8 960,420 C953.6,421.2 953.6,421.7 946.9,421.5 C940.2,421.3 930.3,419.8 920,419 C909.7,418.2 898.5,417.6 885,416.5 C871.5,415.4 854.8,413.6 839.3,412.1 C823.8,410.6 802,408.6 791.7,407.6 C781.4,406.6 780,406.4 777.6,406.1" fill="none" stroke="#b07fe0" stroke-width="3.6" stroke-linejoin="round" stroke-linecap="round"/>
<path d="M777.6,424 C778,421.5 778.8,414.6 779.9,409.1 C781,403.7 782.3,396.8 784.3,391.3 C786.3,385.9 788.7,381.1 791.7,376.4 C794.7,371.7 797.9,367.3 802.1,363.1 C806.3,358.9 810.8,354.7 817,351.2 C823.2,347.7 831.9,344.8 839.3,342.3 C846.7,339.8 853.2,338.5 861.5,336.3 C869.8,334.1 881.4,331.3 889.2,329.3 C897,327.3 901.9,326.1 908.3,324.5 C914.7,322.9 921.1,321.3 927.5,319.7 C933.9,318.1 940.2,316.6 946.6,314.9 C953,313.1 959.4,310.9 965.8,309.2 C972.2,307.4 978.4,305.7 984.9,304.4 C991.4,303.1 999.3,302.8 1005,301.5 C1010.7,300.2 1013.7,298.6 1019.2,296.7 C1024.8,294.8 1031.9,292.6 1038.3,290 C1044.7,287.4 1051.1,283.9 1057.5,281.4 C1063.9,278.8 1070.2,276.9 1076.6,274.7 C1083,272.5 1089.4,270.4 1095.8,268 C1102.2,265.6 1107.5,263.2 1114.9,260.3 C1122.3,257.4 1131.1,254.4 1140,250.8 C1148.9,247.2 1160.6,242.8 1168.3,238.5 C1176,234.2 1180.9,229.4 1186.2,225 C1191.5,220.6 1195.7,216.8 1200,212 C1204.3,207.2 1208,201.4 1212,196 C1216,190.6 1222.2,182.2 1224.3,179.4 L1224.3,179.4 C1224,184.2 1222.9,198.8 1222.2,208.2 C1221.5,217.5 1220.8,228.9 1220,235.5 C1219.2,242.1 1218.2,243.9 1217.2,248 C1216.2,252.1 1215.6,255.1 1214.3,260 C1213,264.9 1211.4,270.8 1209.5,277.5 C1207.6,284.2 1205.2,293.5 1202.8,300.5 C1200.4,307.5 1198.1,313.9 1195.2,319.7 C1192.3,325.4 1188.8,329.2 1185.6,335 C1182.4,340.8 1179.7,347.9 1176,354.2 C1172.3,360.4 1168,366.8 1163.5,372.5 C1159,378.2 1154.3,383.8 1148.8,388.5 C1143.2,393.2 1137.9,396.8 1130.2,400.5 C1122.5,404.2 1111.8,408 1102.5,410.6 C1093.2,413.2 1085.1,414.5 1074.7,416.1 C1064.3,417.7 1054.1,418.6 1040,420.3 C1025.9,422 1003.7,425.2 990,426.5 C976.3,427.8 966.4,427.8 958,428 C949.6,428.2 951.6,427.7 939.4,427.5 C927.2,427.3 901.7,427.1 885,426.9 C868.3,426.7 855.6,426.4 839.3,426.2 C823,426 797.6,425.9 787.3,425.5 C777,425.1 779.2,424.2 777.6,424" fill="none" stroke="#1fc0c8" stroke-width="3.6" stroke-linejoin="round" stroke-linecap="round"/>
<path d="M776.9,446.2 C777.6,442.5 779.3,431.2 781.3,424 C783.3,416.8 785.8,409.9 788.8,403.2 C791.8,396.5 795.5,390.1 799.2,383.9 C802.9,377.7 806.3,372.2 811,366 C815.7,359.8 821.2,352.6 827.4,346.7 C833.6,340.8 841.1,335.4 848.2,330.4 C855.3,325.4 863.2,320.2 870,316.8 C876.8,313.4 882.8,312.3 889.2,310.1 C895.6,307.9 901.9,305.6 908.3,303.4 C914.7,301.2 921.1,298.9 927.5,296.7 C933.9,294.5 940.2,292.4 946.6,290 C953,287.6 959.4,284.8 965.8,282.4 C972.2,280 977.5,278.1 984.9,275.7 C992.3,273.3 1001.1,271.2 1010,268 C1018.9,264.8 1030.4,260.2 1038.3,256.5 C1046.2,252.8 1051.1,249.7 1057.5,246 C1063.9,242.3 1070.2,238.5 1076.6,234.5 C1083,230.5 1089.4,225.8 1095.8,222 C1102.2,218.2 1107.5,215.1 1114.9,212 C1122.3,208.9 1132.9,206.3 1140,203.5 C1147.1,200.7 1149.8,199.4 1157.5,195.2 C1165.2,190.9 1178.3,183.2 1186.2,178 C1194.1,172.8 1200.2,168.1 1205,164 C1209.8,159.9 1211.8,156.8 1215,153.6 C1218.2,150.4 1222.8,146.3 1224.3,144.9 L1224.3,144.9 C1224,149.4 1223,162.8 1222.2,172.2 C1221.4,181.5 1220.3,191.4 1219.3,201 C1218.3,210.6 1218,220.7 1216.4,229.7 C1214.9,238.7 1212,247 1210,255 C1208,263 1206.5,269.6 1204.7,277.5 C1202.9,285.4 1201,293.6 1199,302.4 C1197,311.1 1195,321.9 1192.8,330 C1190.6,338.1 1188.3,343.9 1185.8,350.8 C1183.2,357.8 1181,364.8 1177.5,371.7 C1174,378.6 1169.4,386.5 1165,392.5 C1160.6,398.5 1155.3,403.9 1151.1,407.8 C1146.9,411.7 1144.6,413.1 1140,416.1 C1135.4,419.1 1130.7,422.8 1123.3,425.8 C1115.9,428.8 1104.8,432.1 1095.6,434.2 C1086.3,436.3 1077.1,437.4 1067.8,438.3 C1058.5,439.2 1053,439.7 1040,439.7 C1027,439.7 1005.5,438.3 990,438.5 C974.5,438.7 964.5,439.8 947,441 C929.5,442.2 903,444.6 885,445.5 C867,446.4 856.3,445.9 839.3,446.2 C822.3,446.4 793.2,447 782.8,447 C772.4,447 777.9,446.3 776.9,446.2" fill="none" stroke="#8a8a12" stroke-width="3.6" stroke-linejoin="round" stroke-linecap="round"/>
<path d="M777.6,462.6 C778,458.6 778.8,446.5 779.9,438.8 C781,431.1 782.4,423.9 784.3,416.5 C786.1,409.1 788.3,401 791,394.3 C793.7,387.6 797,382.3 800.6,376.4 C804.2,370.4 808,365 812.5,358.6 C817,352.2 822.7,343.7 827.4,337.8 C832.1,331.9 833.6,329.2 840.7,323 C847.8,316.8 861.9,306.1 870,300.6 C878.1,295.1 882.8,293.5 889.2,290 C895.6,286.5 901.9,282.7 908.3,279.5 C914.7,276.3 921.1,273.9 927.5,270.9 C933.9,267.9 940.2,264.6 946.6,261.3 C953,258 959.4,254.3 965.8,250.8 C972.2,247.3 977.5,243.2 984.9,240.2 C992.3,237.2 1001.1,236.3 1010,232.6 C1018.9,228.9 1030.4,222.3 1038.3,218.2 C1046.2,214 1052.1,210.9 1057.5,207.7 C1062.9,204.5 1066.5,202.6 1070.9,199 C1075.3,195.4 1080,189.9 1084,186 C1088,182.1 1090.9,178.8 1095,175.5 C1099.1,172.2 1104.2,169 1108.6,166.5 C1113,164 1115.8,162.8 1121.6,160.7 C1127.3,158.5 1135.9,156.5 1143.1,153.6 C1150.3,150.7 1157.5,147.1 1164.7,143.5 C1171.9,139.9 1179,136.8 1186.2,132 C1193.4,127.2 1201.6,119.9 1207.8,114.7 C1214,109.5 1221,103.4 1223.6,101.1 L1223.6,101.1 C1223.4,105.8 1222.9,119.6 1222.2,129.1 C1221.5,138.6 1220.3,148.3 1219.3,157.9 C1218.3,167.5 1217.7,176.6 1216.4,186.6 C1215.1,196.6 1213.3,207.8 1211.5,218 C1209.7,228.2 1207.6,238.1 1205.5,248 C1203.4,257.9 1201,268.4 1199,277.5 C1197,286.6 1195.4,294 1193.2,302.4 C1191,310.8 1188.4,319.9 1186,328 C1183.6,336.1 1181.5,343.5 1178.9,350.8 C1176.3,358.1 1173.6,364.8 1170.6,371.7 C1167.6,378.6 1164,386.2 1160.8,392.5 C1157.5,398.8 1155,403.6 1151.1,409.2 C1147.2,414.8 1142.8,420.5 1137.2,425.8 C1131.7,431.1 1124.7,436.7 1117.8,441.1 C1110.9,445.5 1103.9,449.1 1095.6,452.2 C1087.3,455.3 1077.1,458.1 1067.8,459.9 C1058.5,461.7 1049.6,462.5 1040,462.8 C1030.4,463.1 1019.3,462.2 1010,461.5 C1000.7,460.8 992.6,459.5 984.3,458.5 C976,457.5 968.1,456.2 960,455.5 C951.9,454.8 948.2,453.8 935.7,454.2 C923.2,454.6 898.6,457.1 885,458.1 C871.4,459.1 866.7,459.6 854.1,460.4 C841.5,461.1 822.2,462.1 809.6,462.6 C797,463.1 783.6,463.2 778.4,463.3" fill="none" stroke="#7412ee" stroke-width="3.6" stroke-linejoin="round" stroke-linecap="round"/>
<rect x="763.5" y="89" width="473" height="382.8" fill="none" stroke="#000" stroke-width="4.6"/>
<text x="748.2" y="435.3" font-size="27.8" font-weight="bold" fill="#000" text-anchor="end">-0.5</text>
<text x="748.2" y="378.2" font-size="27.8" font-weight="bold" fill="#000" text-anchor="end">0.0</text>
<text x="748.2" y="321.1" font-size="27.8" font-weight="bold" fill="#000" text-anchor="end">0.5</text>
<text x="748.2" y="264" font-size="27.8" font-weight="bold" fill="#000" text-anchor="end">1.0</text>
<text x="748.2" y="206.9" font-size="27.8" font-weight="bold" fill="#000" text-anchor="end">1.5</text>
<text x="748.2" y="149.8" font-size="27.8" font-weight="bold" fill="#000" text-anchor="end">2.0</text>
<text x="777.7" y="505.5" font-size="28.3" font-weight="bold" fill="#000" text-anchor="middle">0.0</text>
<text x="866.2" y="505.5" font-size="28.3" font-weight="bold" fill="#000" text-anchor="middle">0.3</text>
<text x="954.7" y="505.5" font-size="28.3" font-weight="bold" fill="#000" text-anchor="middle">0.6</text>
<text x="1043.2" y="505.5" font-size="28.3" font-weight="bold" fill="#000" text-anchor="middle">0.9</text>
<text x="1131.7" y="505.5" font-size="28.3" font-weight="bold" fill="#000" text-anchor="middle">1.2</text>
<text x="1220.2" y="505.5" font-size="28.3" font-weight="bold" fill="#000" text-anchor="middle">1.5</text>
<path d="M759.5,454 H763.5 M756.5,425.5 H763.5 M759.5,396.9 H763.5 M756.5,368.4 H763.5 M759.5,339.8 H763.5 M756.5,311.3 H763.5 M759.5,282.8 H763.5 M756.5,254.2 H763.5 M759.5,225.6 H763.5 M756.5,197.1 H763.5 M759.5,168.5 H763.5 M756.5,140 H763.5 M759.5,111.4 H763.5 M778,471.8 V478.8 M822.2,471.8 V475.8 M866.5,471.8 V478.8 M910.8,471.8 V475.8 M955,471.8 V478.8 M999.2,471.8 V475.8 M1043.5,471.8 V478.8 M1087.8,471.8 V475.8 M1132,471.8 V478.8 M1176.2,471.8 V475.8 M1220.5,471.8 V478.8" stroke="#000" stroke-width="3.2" fill="none"/>
<path d="M771.5,112.1 H817.5" stroke="#1f62d2" stroke-width="4.6" stroke-linecap="round"/>
<text x="822" y="0" font-size="21" font-weight="bold" transform="translate(0 118.6) scale(1 1.12)">10 mVs<tspan font-size="15.5" dy="-10.5">-1</tspan></text>
<path d="M771.5,148.3 H817.5" stroke="#3aa070" stroke-width="4.6" stroke-linecap="round"/>
<text x="822" y="0" font-size="21" font-weight="bold" transform="translate(0 154.8) scale(1 1.12)">20 mVs<tspan font-size="15.5" dy="-10.5">-1</tspan></text>
<path d="M771.5,184.2 H817.5" stroke="#b07fe0" stroke-width="4.6" stroke-linecap="round"/>
<text x="822" y="0" font-size="21" font-weight="bold" transform="translate(0 190.7) scale(1 1.12)">30 mVs<tspan font-size="15.5" dy="-10.5">-1</tspan></text>
<path d="M924.8,112.1 H971.2" stroke="#1fc0c8" stroke-width="4.6" stroke-linecap="round"/>
<text x="975" y="0" font-size="21" font-weight="bold" transform="translate(0 118.6) scale(1 1.12)">50 mVs<tspan font-size="15.5" dy="-10.5">-1</tspan></text>
<path d="M924.8,148.3 H971.2" stroke="#8a8a12" stroke-width="4.6" stroke-linecap="round"/>
<text x="975" y="0" font-size="21" font-weight="bold" transform="translate(0 154.8) scale(1 1.12)">80 mVs<tspan font-size="15.5" dy="-10.5">-1</tspan></text>
<path d="M924.8,184.2 H971.2" stroke="#7412ee" stroke-width="4.6" stroke-linecap="round"/>
<text x="975" y="0" font-size="21" font-weight="bold" transform="translate(0 190.7) scale(1 1.12)">100 mVs<tspan font-size="15.5" dy="-10.5">-1</tspan></text>
<text x="1000" y="538.6" font-size="30" font-weight="bold" fill="#000" text-anchor="middle" textLength="181" lengthAdjust="spacingAndGlyphs">Potential (V)</text>
<text x="694" y="279" font-size="30" font-weight="bold" fill="#000" text-anchor="middle" textLength="193" lengthAdjust="spacingAndGlyphs" transform="rotate(-90 694 279)">Current (mA)</text>
<text x="647" y="109.8" font-size="45" font-weight="bold" fill="#000">(b)</text>
<path d="M1399.7,469.5 C1399.9,456 1400.4,410.9 1400.9,388.6 C1401.4,366.2 1402,349.7 1402.8,335.4 C1403.6,321.1 1404.7,311.5 1405.9,303 C1407.1,294.6 1408.6,289 1410,284.5 C1411.3,280.1 1412.4,278.7 1414.1,276.4 C1415.7,274.2 1417.5,275.2 1419.9,271.1 C1422.3,267.1 1426.2,257.6 1428.4,252.2 C1430.7,246.7 1431.2,244.9 1433.3,238.3 C1435.3,231.7 1436.9,220.8 1440.7,212.9 C1444.6,205 1450.4,197.5 1456.1,190.9 C1461.8,184.4 1467.8,178.4 1475,173.6 C1482.2,168.7 1490.4,165.9 1499.2,162 C1508,158.2 1520.3,153.5 1528,150.4 C1535.6,147.4 1538.6,146 1545,143.5 C1551.4,141 1558.1,138.1 1566.4,135.4 C1574.8,132.7 1586.3,129.4 1595.1,127.3 C1603.8,125.2 1615,123.5 1619,122.7 L1619,122.7 C1619.5,130.4 1620.8,148.1 1622.3,168.9 C1623.9,189.7 1625.9,231.4 1628.5,247.5 C1631.1,263.7 1632.9,256.8 1637.7,266 C1642.5,275.3 1652.1,293.4 1657.2,303 C1662.4,312.7 1665.3,318.6 1668.5,323.8 C1671.8,329 1672.8,331.6 1676.7,334.2 C1680.7,336.9 1686.6,338.1 1692.1,340 C1697.6,342 1703.9,343.5 1709.6,345.8 C1715.2,348.1 1721.9,351.8 1726,353.9 C1730.1,356 1730.4,355.1 1734.2,358.5 C1737.9,362 1743.8,369.3 1748.5,374.7 C1753.3,380.1 1758.1,384.3 1762.9,390.9 C1767.7,397.4 1772.5,405.1 1777.3,414 C1782.1,422.9 1787.3,434.8 1791.6,444.1 C1796,453.3 1801.4,465.3 1803.3,469.5" fill="none" stroke="#6a12e6" stroke-width="3.6" stroke-linejoin="round" stroke-linecap="round"/>
<path d="M1399.7,469.5 C1400,454.1 1400.7,402.1 1401.8,377 C1402.8,352 1404.1,334.6 1405.9,319.2 C1407.6,303.8 1409.8,295.7 1412,284.5 C1414.2,273.4 1417.3,260.6 1418.9,252.2 C1420.5,243.8 1420,241.6 1421.8,234.1 C1423.5,226.7 1426.6,215.6 1429.5,207.3 C1432.3,199 1434.2,193.5 1439,184.2 C1443.8,174.9 1453.1,159.9 1458.2,151.6 C1463.3,143.3 1466.4,138.5 1469.5,134.3 C1472.5,130 1473.8,128.1 1476.7,126.2 C1479.5,124.2 1484.8,123.3 1486.4,122.7 L1486.4,122.7 C1486.7,127.3 1487.8,140.8 1488.4,150.4 C1489.1,160.1 1489.3,163.2 1490.5,180.5 C1491.7,197.8 1494,237.9 1495.6,254.5 C1497.3,271.1 1498.5,272.2 1500.2,279.9 C1502,287.6 1504,293.4 1506.4,300.7 C1508.8,308 1512.1,317.3 1514.6,323.8 C1517.1,330.4 1519,334.6 1521.4,340 C1523.7,345.4 1526.1,348.9 1528.8,356.2 C1531.4,363.5 1534.5,374.7 1537.2,384 C1539.9,393.2 1541.9,401.7 1545,411.7 C1548.1,421.7 1552.1,434.4 1555.7,444.1 C1559.2,453.7 1564.6,465.3 1566.4,469.5" fill="none" stroke="#e24a4a" stroke-width="3.6" stroke-linejoin="round" stroke-linecap="round"/>
<path d="M1399.7,469.5 C1400,450.2 1400.9,382.8 1401.8,353.9 C1402.6,325 1403.5,311.5 1404.8,296.1 C1406.2,280.7 1408.1,272.2 1410,261.4 C1411.8,250.6 1413.8,241.7 1416.1,231.4 C1418.4,221 1421.8,206.7 1423.7,199.5 C1425.6,192.2 1425.3,193.6 1427.4,187.9 C1429.5,182.2 1433,172.4 1436.1,165 C1439.2,157.6 1442.4,150.6 1445.9,143.5 C1449.3,136.5 1455.1,126.2 1457,122.7 L1457,122.7 C1457.2,128.5 1458.1,144.3 1458.7,157.4 C1459.3,170.5 1459.7,184.7 1460.6,201.3 C1461.6,217.9 1463,242.9 1464.3,256.8 C1465.6,270.7 1466.9,276.6 1468.4,284.5 C1470,292.4 1471.5,296.5 1473.6,304.2 C1475.6,311.9 1478.3,322.1 1480.8,330.8 C1483.2,339.4 1485.3,343.5 1488.2,356.2 C1491.2,368.9 1494.5,388.2 1498.2,407.1 C1501.9,426 1508.3,459.1 1510.3,469.5" fill="none" stroke="#1f6fd6" stroke-width="3.6" stroke-linejoin="round" stroke-linecap="round"/>
<path d="M1399.7,469.5 C1400,448.3 1400.8,373.9 1401.3,342.3 C1401.9,310.7 1401.3,301.1 1403,279.9 C1404.6,258.7 1407.8,235.6 1411.1,215.2 C1414.3,194.8 1418.9,173.4 1422.5,157.4 C1426,141.4 1430.6,125.4 1432.2,119 L1432.2,119 C1432.5,127.3 1432.6,142.1 1434.1,168.9 C1435.6,195.8 1437.9,245.6 1441.3,279.9 C1444.6,314.2 1449.8,343.1 1454.1,374.7 C1458.3,406.3 1464.7,453.7 1466.8,469.5" fill="none" stroke="#3aa070" stroke-width="3.6" stroke-linejoin="round" stroke-linecap="round"/>
<path d="M1399.7,469.5 C1399.9,448.3 1400.6,373.9 1401.1,342.3 C1401.6,310.7 1401.1,301.1 1402.5,279.9 C1404,258.7 1406.8,235.6 1409.6,215.2 C1412.5,194.8 1416.5,173.2 1419.6,157.4 C1422.7,141.6 1426.7,126.6 1428.1,120.4 L1428.1,120.4 C1428.4,128.5 1428.6,142.4 1429.8,168.9 C1430.9,195.5 1432.2,245.6 1435,279.9 C1437.8,314.2 1442.7,343.1 1446.5,374.7 C1450.3,406.3 1456.1,453.7 1458,469.5" fill="none" stroke="#b07fe6" stroke-width="3.6" stroke-linejoin="round" stroke-linecap="round"/>
<path d="M1399.7,469.5 C1399.9,448.3 1400.4,373.9 1400.7,342.3 C1401.1,310.7 1400.7,301.1 1401.7,279.9 C1402.7,258.7 1404.8,235.6 1406.8,215.2 C1408.8,194.8 1411.7,173.8 1413.9,157.4 C1416.1,141 1419,123.5 1420,116.7 L1420,116.7 C1420.2,125.4 1420.4,141.7 1421.2,168.9 C1422.1,196.1 1423.2,245.6 1425,279.9 C1426.9,314.2 1429.9,343.1 1432.3,374.7 C1434.8,406.3 1438.4,453.7 1439.6,469.5" fill="none" stroke="#d0a020" stroke-width="3.6" stroke-linejoin="round" stroke-linecap="round"/>
<path d="M1399.7,469.5 C1399.8,448.3 1400.1,373.9 1400.3,342.3 C1400.5,310.7 1400.3,301.1 1400.9,279.9 C1401.5,258.7 1402.8,235.6 1404,215.2 C1405.2,194.8 1406.9,173 1408.2,157.4 C1409.6,141.8 1411.3,127.5 1411.9,121.5 L1411.9,121.5 C1412.1,129.4 1412.1,142.5 1412.8,168.9 C1413.5,195.3 1414.7,245.6 1416,279.9 C1417.3,314.2 1419,343.1 1420.4,374.7 C1421.9,406.3 1424.1,453.7 1424.8,469.5" fill="none" stroke="#1fc0c8" stroke-width="3.6" stroke-linejoin="round" stroke-linecap="round"/>
<path d="M1399.7,469.5 C1399.8,448.3 1400,373.9 1400.1,342.3 C1400.2,310.7 1400.1,301.1 1400.5,279.9 C1400.9,258.7 1401.8,235.6 1402.6,215.2 C1403.4,194.8 1404.6,174.3 1405.4,157.4 C1406.3,140.4 1407.5,120.8 1407.9,113.5 L1407.9,113.5 C1408.1,126.6 1408.6,159.7 1409.1,192.1 C1409.7,224.4 1410.4,261.4 1411.2,307.7 C1412,353.9 1413.3,442.5 1413.8,469.5" fill="none" stroke="#7a5252" stroke-width="3.6" stroke-linejoin="round" stroke-linecap="round"/>
<rect x="1388.8" y="88.6" width="472.2" height="381.6" fill="none" stroke="#000" stroke-width="4.6"/>
<text x="1376.3" y="479.3" font-size="28.3" font-weight="bold" fill="#000" text-anchor="end">0.0</text>
<text x="1376.3" y="433.1" font-size="28.3" font-weight="bold" fill="#000" text-anchor="end">0.2</text>
<text x="1376.3" y="386.8" font-size="28.3" font-weight="bold" fill="#000" text-anchor="end">0.4</text>
<text x="1376.3" y="340.6" font-size="28.3" font-weight="bold" fill="#000" text-anchor="end">0.6</text>
<text x="1376.3" y="294.3" font-size="28.3" font-weight="bold" fill="#000" text-anchor="end">0.8</text>
<text x="1376.3" y="248.1" font-size="28.3" font-weight="bold" fill="#000" text-anchor="end">1.0</text>
<text x="1376.3" y="201.9" font-size="28.3" font-weight="bold" fill="#000" text-anchor="end">1.2</text>
<text x="1376.3" y="155.6" font-size="28.3" font-weight="bold" fill="#000" text-anchor="end">1.4</text>
<text x="1376.3" y="109.4" font-size="28.3" font-weight="bold" fill="#000" text-anchor="end">1.6</text>
<text x="1399.7" y="503" font-size="27.5" font-weight="bold" fill="#000" text-anchor="middle">0</text>
<text x="1502.3" y="503" font-size="27.5" font-weight="bold" fill="#000" text-anchor="middle">100</text>
<text x="1604.9" y="503" font-size="27.5" font-weight="bold" fill="#000" text-anchor="middle">200</text>
<text x="1707.5" y="503" font-size="27.5" font-weight="bold" fill="#000" text-anchor="middle">300</text>
<text x="1810.1" y="503" font-size="27.5" font-weight="bold" fill="#000" text-anchor="middle">400</text>
<path d="M1381.8,469.5 H1388.8 M1384.8,446.4 H1388.8 M1381.8,423.3 H1388.8 M1384.8,400.1 H1388.8 M1381.8,377 H1388.8 M1384.8,353.9 H1388.8 M1381.8,330.8 H1388.8 M1384.8,307.7 H1388.8 M1381.8,284.5 H1388.8 M1384.8,261.4 H1388.8 M1381.8,238.3 H1388.8 M1384.8,215.2 H1388.8 M1381.8,192.1 H1388.8 M1384.8,168.9 H1388.8 M1381.8,145.8 H1388.8 M1384.8,122.7 H1388.8 M1381.8,99.6 H1388.8 M1399.7,470.2 V477.2 M1451,470.2 V474.2 M1502.3,470.2 V477.2 M1553.6,470.2 V474.2 M1604.9,470.2 V477.2 M1656.2,470.2 V474.2 M1707.5,470.2 V477.2 M1758.8,470.2 V474.2 M1810.1,470.2 V477.2" stroke="#000" stroke-width="3.2" fill="none"/>
<path d="M1727.5,107.9 H1773" stroke="#6a12e6" stroke-width="4.6" stroke-linecap="round"/>
<text x="1777" y="115.1" font-size="23.5" font-weight="bold">1 Ag<tspan font-size="16.5" dy="-11">-1</tspan></text>
<path d="M1727.5,143 H1773" stroke="#e24a4a" stroke-width="4.6" stroke-linecap="round"/>
<text x="1777" y="150.2" font-size="23.5" font-weight="bold">2 Ag<tspan font-size="16.5" dy="-11">-1</tspan></text>
<path d="M1727.5,178.1 H1773" stroke="#1f6fd6" stroke-width="4.6" stroke-linecap="round"/>
<text x="1777" y="185.3" font-size="23.5" font-weight="bold">3 Ag<tspan font-size="16.5" dy="-11">-1</tspan></text>
<path d="M1727.5,213.2 H1773" stroke="#3aa070" stroke-width="4.6" stroke-linecap="round"/>
<text x="1777" y="220.4" font-size="23.5" font-weight="bold">4 Ag<tspan font-size="16.5" dy="-11">-1</tspan></text>
<path d="M1727.5,248.3 H1773" stroke="#b07fe6" stroke-width="4.6" stroke-linecap="round"/>
<text x="1777" y="255.5" font-size="23.5" font-weight="bold">5 Ag<tspan font-size="16.5" dy="-11">-1</tspan></text>
<path d="M1727.5,283.5 H1773" stroke="#d0a020" stroke-width="4.6" stroke-linecap="round"/>
<text x="1777" y="290.7" font-size="23.5" font-weight="bold">7 Ag<tspan font-size="16.5" dy="-11">-1</tspan></text>
<path d="M1727.5,318.6 H1773" stroke="#1fc0c8" stroke-width="4.6" stroke-linecap="round"/>
<text x="1777" y="325.8" font-size="23.5" font-weight="bold">10 Ag<tspan font-size="16.5" dy="-11">-1</tspan></text>
<path d="M1727.5,353.7 H1773" stroke="#7a5252" stroke-width="4.6" stroke-linecap="round"/>
<text x="1777" y="360.9" font-size="23.5" font-weight="bold">15 Ag<tspan font-size="16.5" dy="-11">-1</tspan></text>
<text x="1626" y="535.5" font-size="30" font-weight="bold" fill="#000" text-anchor="middle" textLength="119" lengthAdjust="spacingAndGlyphs">Time (s)</text>
<text x="1325" y="279" font-size="30" font-weight="bold" fill="#000" text-anchor="middle" textLength="185" lengthAdjust="spacingAndGlyphs" transform="rotate(-90 1325 279)">Potential (V)</text>
<text x="1269.3" y="109.6" font-size="44.5" font-weight="bold" fill="#000">(c)</text>
<rect x="537.3" y="667.2" width="246.4" height="287.5" fill="url(#gphoto)"/>
<rect x="537.3" y="667.2" width="246.4" height="287.5" fill="url(#gphoto2)"/>
<rect x="537.3" y="667.2" width="246.4" height="287.5" fill="url(#gphoto3)"/>
<rect x="570" y="781" width="166" height="10" fill="#1c2668" opacity="0.95"/>
<rect x="569.5" y="716" width="166.2" height="66" fill="url(#gboard)"/>
<rect x="569.5" y="746.5" width="166.2" height="4" fill="#98b4d8" opacity="0.8"/>
<path d="M576,721.5 H730 M576,726 H730 M576,734 H730 M576,738 H730 M576,742 H730 M576,755 H730 M576,759 H730 M576,763 H730 M576,771.5 H730 M576,776 H730" stroke="#7f94b4" stroke-width="1.5" stroke-dasharray="1.6 1.9" opacity="0.75"/>
<ellipse cx="651" cy="735" rx="62" ry="52" fill="url(#gglow)"/>
<path d="M638,728 Q644,720 652,723 Q661,719 664,728 Q666,738 659,744 Q650,748 642,743 Q636,736 638,728 Z" fill="#f6ffff"/>
<path d="M646,744 C630,760 604,790 598,830 C595,850 592,870 590,895 M652,744 C660,790 670,820 690,845 C694,860 692,890 688,915 M640,746 C625,790 610,810 600,840 M656,746 C675,790 690,820 694,850" stroke="#1a1030" stroke-width="1.6" fill="none" opacity="0.8"/>
<path d="M660,748 C672,780 688,815 695,845" stroke="#c8d8f0" stroke-width="1.3" fill="none" opacity="0.7"/>
<path d="M590,893 L636,899 L640,913 L588,908 Z" fill="#7a2230"/>
<path d="M642,898 L688,904 L686,921 L640,915 Z" fill="#6e1e2c"/>
<path d="M592,896 L636,901 M644,901 L686,907" stroke="#a8404a" stroke-width="2.5" opacity="0.8"/>
<path d="M590,905 L586,935 L600,950 M686,918 L690,940 M638,906 L636,940" stroke="#1a1020" stroke-width="1.4" fill="none"/>
<circle cx="685" cy="852" r="3" fill="#4a90ff" opacity="0.8"/>
<rect x="155.2" y="594.6" width="1007.8" height="373.2" fill="none" stroke="#000" stroke-width="3.6"/>
<text x="137.5" y="976.5" font-size="25" font-weight="bold" fill="#000" text-anchor="end">0</text>
<text x="137.5" y="908.6" font-size="25" font-weight="bold" fill="#000" text-anchor="end">20</text>
<text x="137.5" y="840.8" font-size="25" font-weight="bold" fill="#000" text-anchor="end">40</text>
<text x="137.5" y="772.9" font-size="25" font-weight="bold" fill="#000" text-anchor="end">60</text>
<text x="137.5" y="705" font-size="25" font-weight="bold" fill="#000" text-anchor="end">80</text>
<text x="137.5" y="637.1" font-size="25" font-weight="bold" fill="#000" text-anchor="end">100</text>
<text x="174.8" y="1005.8" font-size="25" font-weight="bold" fill="#000" text-anchor="middle">0</text>
<text x="410.3" y="1005.8" font-size="25" font-weight="bold" fill="#000" text-anchor="middle">2,500</text>
<text x="645.7" y="1005.8" font-size="25" font-weight="bold" fill="#000" text-anchor="middle">5,000</text>
<text x="881.2" y="1005.8" font-size="25" font-weight="bold" fill="#000" text-anchor="middle">7,500</text>
<text x="1116.6" y="1005.8" font-size="25" font-weight="bold" fill="#000" text-anchor="middle">10,000</text>
<path d="M147.2,967.5 H155.2 M150.2,933.6 H155.2 M147.2,899.6 H155.2 M150.2,865.7 H155.2 M147.2,831.8 H155.2 M150.2,797.8 H155.2 M147.2,763.9 H155.2 M150.2,730 H155.2 M147.2,696 H155.2 M150.2,662.1 H155.2 M147.2,628.1 H155.2 M174.8,967.8 V975.8 M292.5,967.8 V972.8 M410.3,967.8 V975.8 M528,967.8 V972.8 M645.7,967.8 V975.8 M763.4,967.8 V972.8 M881.2,967.8 V975.8 M998.9,967.8 V972.8 M1116.6,967.8 V975.8" stroke="#000" stroke-width="3" fill="none"/>
<text x="659.5" y="1036.2" font-size="29" font-weight="bold" fill="#000" text-anchor="middle" textLength="175" lengthAdjust="spacingAndGlyphs">No. of cycles</text>
<text x="91" y="781.6" font-size="31" font-weight="bold" fill="#000" text-anchor="middle" textLength="200" lengthAdjust="spacingAndGlyphs" transform="rotate(-90 91 781.6)">Retention (%)</text>
<text x="-2.2" y="619.5" font-size="45" font-weight="bold" fill="#000">(d)</text>
<circle cx="174.8" cy="628.2" r="8.1" fill="url(#gpdot)"/>
<circle cx="193.6" cy="628.7" r="8.1" fill="url(#gpdot)"/>
<circle cx="212.5" cy="629.5" r="8.1" fill="url(#gpdot)"/>
<circle cx="231.3" cy="630.1" r="8.1" fill="url(#gpdot)"/>
<circle cx="250.1" cy="630.9" r="8.1" fill="url(#gpdot)"/>
<circle cx="269" cy="631.4" r="8.1" fill="url(#gpdot)"/>
<circle cx="287.8" cy="631.9" r="8.1" fill="url(#gpdot)"/>
<circle cx="306.7" cy="632.5" r="8.1" fill="url(#gpdot)"/>
<circle cx="325.5" cy="633" r="8.1" fill="url(#gpdot)"/>
<circle cx="344.3" cy="633.6" r="8.1" fill="url(#gpdot)"/>
<circle cx="363.2" cy="633.6" r="8.1" fill="url(#gpdot)"/>
<circle cx="382" cy="634.1" r="8.1" fill="url(#gpdot)"/>
<circle cx="400.8" cy="634.6" r="8.1" fill="url(#gpdot)"/>
<circle cx="419.7" cy="634.9" r="8.1" fill="url(#gpdot)"/>
<circle cx="438.5" cy="634.9" r="8.1" fill="url(#gpdot)"/>
<circle cx="457.3" cy="635.4" r="8.1" fill="url(#gpdot)"/>
<circle cx="476.2" cy="635.7" r="8.1" fill="url(#gpdot)"/>
<circle cx="495" cy="636" r="8.1" fill="url(#gpdot)"/>
<circle cx="513.8" cy="636.2" r="8.1" fill="url(#gpdot)"/>
<circle cx="532.7" cy="636.8" r="8.1" fill="url(#gpdot)"/>
<circle cx="551.5" cy="637" r="8.1" fill="url(#gpdot)"/>
<circle cx="570.4" cy="637.6" r="8.1" fill="url(#gpdot)"/>
<circle cx="589.2" cy="638.1" r="8.1" fill="url(#gpdot)"/>
<circle cx="608" cy="638.6" r="8.1" fill="url(#gpdot)"/>
<circle cx="626.9" cy="639.4" r="8.1" fill="url(#gpdot)"/>
<circle cx="645.7" cy="640.2" r="8.1" fill="url(#gpdot)"/>
<circle cx="664.5" cy="640.4" r="8.1" fill="url(#gpdot)"/>
<circle cx="683.4" cy="641.3" r="8.1" fill="url(#gpdot)"/>
<circle cx="702.2" cy="642.7" r="8.1" fill="url(#gpdot)"/>
<circle cx="721" cy="644.1" r="8.1" fill="url(#gpdot)"/>
<circle cx="739.9" cy="645" r="8.1" fill="url(#gpdot)"/>
<circle cx="758.7" cy="647.2" r="8.1" fill="url(#gpdot)"/>
<circle cx="777.6" cy="649.8" r="8.1" fill="url(#gpdot)"/>
<circle cx="796.4" cy="652.1" r="8.1" fill="url(#gpdot)"/>
<circle cx="815.2" cy="653.5" r="8.1" fill="url(#gpdot)"/>
<circle cx="834.1" cy="654.6" r="8.1" fill="url(#gpdot)"/>
<circle cx="852.9" cy="655.5" r="8.1" fill="url(#gpdot)"/>
<circle cx="871.7" cy="655.5" r="8.1" fill="url(#gpdot)"/>
<circle cx="890.6" cy="655.5" r="8.1" fill="url(#gpdot)"/>
<circle cx="909.4" cy="656" r="8.1" fill="url(#gpdot)"/>
<circle cx="928.2" cy="656.9" r="8.1" fill="url(#gpdot)"/>
<circle cx="947.1" cy="657.4" r="8.1" fill="url(#gpdot)"/>
<circle cx="965.9" cy="657.7" r="8.1" fill="url(#gpdot)"/>
<circle cx="984.7" cy="658.3" r="8.1" fill="url(#gpdot)"/>
<circle cx="1003.6" cy="661.1" r="8.1" fill="url(#gpdot)"/>
<circle cx="1022.4" cy="662" r="8.1" fill="url(#gpdot)"/>
<circle cx="1041.3" cy="664" r="8.1" fill="url(#gpdot)"/>
<circle cx="1060.1" cy="664.8" r="8.1" fill="url(#gpdot)"/>
<circle cx="1078.9" cy="666" r="8.1" fill="url(#gpdot)"/>
<circle cx="1097.8" cy="666.8" r="8.1" fill="url(#gpdot)"/>
<circle cx="1116.6" cy="668.8" r="8.1" fill="url(#gpdot)"/>
<path d="M1114.5,668 L1122,677.5" stroke="#f8861a" stroke-width="2.6"/>
<path d="M1116.2,680.6 L1125.8,672 L1137.8,695.2 Z" fill="#f8861a"/>
<text x="1102" y="720.6" font-size="25.5" font-weight="bold" fill="#ee8c2c" textLength="57" lengthAdjust="spacingAndGlyphs">88 %</text>
<rect x="208.3" y="730.3" width="248.4" height="184.7" fill="#fff"/>
<path d="M212.2,914.3 C212.4,908.8 212.4,896.6 213.1,881.4 C213.8,866.3 215.2,838.9 216.2,823.5 C217.2,808.1 218.2,798.4 219.3,789.1 C220.3,779.7 221.5,772.4 222.5,767.1 C223.5,761.9 224.7,759.3 225.1,757.7 L225.1,757.7 C225.2,760.3 224.7,760.1 225.7,773.2 C226.6,786.2 229,812.5 230.9,836 C232.7,859.5 235.7,901.3 236.7,914.3 L236.7,914.3 C236.8,908.8 236.9,896.6 237.6,881.4 C238.3,866.3 239.8,838.9 240.9,823.5 C242,808.1 243,798.4 244.1,789.1 C245.2,779.7 246.5,772.4 247.5,767.1 C248.5,761.9 249.8,759.3 250.2,757.7 L250.2,757.7 C250.3,760.3 249.8,760.1 250.8,773.2 C251.8,786.2 254.2,812.5 256.1,836 C257.9,859.5 260.9,901.3 261.9,914.3 L261.9,914.3 C262.1,908.8 262.1,896.6 262.8,881.4 C263.5,866.3 264.9,838.9 265.9,823.5 C267,808.1 268,798.4 269.1,789.1 C270.2,779.7 271.4,772.4 272.4,767.1 C273.3,761.9 274.5,759.3 275,757.7 L275,757.7 C275.1,760.3 274.6,760.1 275.6,773.2 C276.5,786.2 279,812.5 280.9,836 C282.7,859.5 285.8,901.3 286.7,914.3 L286.7,914.3 C286.9,908.9 287,896.7 287.6,881.6 C288.3,866.6 289.6,839.4 290.6,824.1 C291.6,808.8 292.5,799.2 293.5,789.9 C294.5,780.5 295.7,773.3 296.6,768.1 C297.5,762.9 298.7,760.3 299.1,758.8 L299.1,758.8 C299.2,761.3 298.7,761.3 299.6,774.2 C300.6,787.2 302.9,813.2 304.6,836.5 C306.4,859.9 309.2,901.3 310.1,914.3 L310.1,914.3 C310.3,908.9 310.4,896.7 311,881.6 C311.6,866.6 313,839.4 314,824.1 C315,808.8 316,799.2 317,789.9 C318,780.5 319.1,773.3 320.1,768.1 C321,762.9 322.1,760.3 322.6,758.8 L322.6,758.8 C322.7,761.3 322.2,761.3 323.1,774.2 C324,787.2 326.3,813.2 328.1,836.5 C329.8,859.9 332.7,901.3 333.6,914.3 L333.6,914.3 C333.8,908.9 333.8,896.9 334.5,882.1 C335.1,867.2 336.4,840.4 337.4,825.3 C338.4,810.2 339.3,800.7 340.3,791.5 C341.3,782.3 342.4,775.2 343.3,770 C344.2,764.9 345.4,762.4 345.8,760.8 L345.8,760.8 C345.9,763.4 345.4,763.5 346.4,776.3 C347.4,789.1 349.8,814.6 351.7,837.6 C353.6,860.6 356.7,901.5 357.6,914.3 L357.6,914.3 C357.8,908.9 357.9,896.7 358.5,881.6 C359.1,866.6 360.4,839.4 361.4,824.1 C362.4,808.8 363.3,799.2 364.3,789.9 C365.3,780.5 366.5,773.3 367.4,768.1 C368.3,762.9 369.4,760.3 369.8,758.8 L369.8,758.8 C369.9,761.3 369.4,761.3 370.4,774.2 C371.3,787.2 373.6,813.2 375.4,836.5 C377.2,859.9 380.1,901.3 381,914.3 L381,914.3 C381.2,908.9 381.3,896.7 381.9,881.6 C382.5,866.6 383.8,839.4 384.7,824.1 C385.7,808.8 386.6,799.2 387.6,789.9 C388.6,780.5 389.7,773.3 390.6,768.1 C391.5,762.9 392.6,760.3 393,758.8 L393,758.8 C393.1,761.3 392.6,761.3 393.6,774.2 C394.6,787.2 397,813.2 398.8,836.5 C400.7,859.9 403.7,901.3 404.7,914.3 L404.7,914.3 C404.8,908.9 404.9,896.7 405.5,881.6 C406.2,866.6 407.4,839.4 408.4,824.1 C409.4,808.8 410.3,799.2 411.3,789.9 C412.3,780.5 413.4,773.3 414.3,768.1 C415.2,762.9 416.3,760.3 416.7,758.8 L416.7,758.8 C416.8,761.3 416.3,761.3 417.2,774.2 C418.2,787.2 420.7,813.2 422.5,836.5 C424.4,859.9 427.4,901.3 428.4,914.3 L428.4,914.3 C428.5,908.9 428.6,896.7 429.2,881.6 C429.8,866.6 431,839.4 432,824.1 C432.9,808.8 433.8,799.2 434.8,789.9 C435.7,780.5 436.8,773.3 437.7,768.1 C438.6,762.9 439.7,760.3 440.1,758.8 L440.1,758.8 C440.1,761.3 439.7,761.3 440.6,774.2 C441.6,787.2 443.9,813.2 445.7,836.5 C447.5,859.9 450.4,901.3 451.4,914.3" fill="none" stroke="#a77ee6" stroke-width="1.9" stroke-linejoin="round"/>
<rect x="208.3" y="730.3" width="248.4" height="184.7" fill="none" stroke="#222" stroke-width="2.4"/>
<text x="201.5" y="919.3" font-size="14" font-weight="bold" fill="#222" text-anchor="end">0.0</text>
<text x="201.5" y="888.4" font-size="14" font-weight="bold" fill="#222" text-anchor="end">0.3</text>
<text x="201.5" y="857.5" font-size="14" font-weight="bold" fill="#222" text-anchor="end">0.6</text>
<text x="201.5" y="826.6" font-size="14" font-weight="bold" fill="#222" text-anchor="end">0.9</text>
<text x="201.5" y="795.7" font-size="14" font-weight="bold" fill="#222" text-anchor="end">1.2</text>
<text x="201.5" y="764.8" font-size="14" font-weight="bold" fill="#222" text-anchor="end">1.5</text>
<text x="212.2" y="931.6" font-size="14" font-weight="bold" fill="#222" text-anchor="middle">0</text>
<text x="257.9" y="931.6" font-size="14" font-weight="bold" fill="#222" text-anchor="middle">50</text>
<text x="303.6" y="931.6" font-size="14" font-weight="bold" fill="#222" text-anchor="middle">100</text>
<text x="349.2" y="931.6" font-size="14" font-weight="bold" fill="#222" text-anchor="middle">150</text>
<text x="394.9" y="931.6" font-size="14" font-weight="bold" fill="#222" text-anchor="middle">200</text>
<text x="440.6" y="931.6" font-size="14" font-weight="bold" fill="#222" text-anchor="middle">250</text>
<path d="M204.3,914.3 H208.3 M205.8,898.8 H208.3 M204.3,883.4 H208.3 M205.8,867.9 H208.3 M204.3,852.5 H208.3 M205.8,837 H208.3 M204.3,821.6 H208.3 M205.8,806.1 H208.3 M204.3,790.7 H208.3 M205.8,775.2 H208.3 M204.3,759.8 H208.3 M205.8,744.3 H208.3 M212.2,915 V919 M235,915 V917.5 M257.9,915 V919 M280.7,915 V917.5 M303.6,915 V919 M326.4,915 V917.5 M349.2,915 V919 M372.1,915 V917.5 M394.9,915 V919 M417.8,915 V917.5 M440.6,915 V919" stroke="#222" stroke-width="1.6" fill="none"/>
<path d="M263.5,744.1 H285.3" stroke="#a77ee6" stroke-width="2.2"/>
<text x="290.6" y="748.7" font-size="13" font-weight="bold" fill="#333" textLength="93.6" lengthAdjust="spacingAndGlyphs">First ten cycles</text>
<text x="333" y="948.5" font-size="15.5" font-weight="bold" fill="#222" text-anchor="middle" textLength="56" lengthAdjust="spacingAndGlyphs">Time(s)</text>
<text x="174.5" y="822.3" font-size="14.5" font-weight="bold" fill="#222" text-anchor="middle" textLength="90" lengthAdjust="spacingAndGlyphs" transform="rotate(-90 174.5 822.3)">Potential (V)</text>
<rect x="885.8" y="736.4" width="260.9" height="180" fill="#fff"/>
<path d="M892,915.6 C892.2,910.2 892.3,898.3 893,883.5 C893.7,868.7 895.2,841.9 896.3,826.9 C897.4,811.8 898.5,802.4 899.6,793.2 C900.7,784 902,776.9 903.1,771.8 C904.1,766.7 905.4,764.1 905.8,762.6 L905.8,762.6 C905.9,765.1 905.4,764.9 906.4,777.6 C907.4,790.4 909.9,816.1 911.8,839.1 C913.7,862.1 916.8,902.9 917.7,915.6 L917.7,915.6 C917.9,910.2 918,898.1 918.7,883.3 C919.4,868.4 920.8,841.4 921.9,826.3 C922.9,811.1 924,801.6 925.1,792.4 C926.2,783.2 927.4,776 928.4,770.8 C929.4,765.7 930.6,763.1 931.1,761.6 L931.1,761.6 C931.2,764.1 930.7,763.8 931.6,776.6 C932.6,789.4 934.9,815.4 936.6,838.6 C938.4,861.8 941.3,902.8 942.2,915.6 L942.2,915.6 C942.3,910.4 942.4,898.7 943.1,884.3 C943.7,869.9 945.1,843.8 946.1,829.2 C947.1,814.5 948,805.3 949.1,796.4 C950.1,787.5 951.3,780.5 952.2,775.5 C953.1,770.6 954.3,768.1 954.7,766.6 L954.7,766.6 C954.8,769.1 954.3,769.2 955.3,781.6 C956.3,794 958.8,818.8 960.7,841.1 C962.5,863.4 965.6,903.2 966.6,915.6 L966.6,915.6 C966.8,910.2 966.9,898.3 967.5,883.5 C968.2,868.7 969.7,841.9 970.7,826.9 C971.8,811.8 972.9,802.4 973.9,793.2 C975,784 976.3,776.9 977.3,771.8 C978.3,766.7 979.5,764.1 979.9,762.6 L979.9,762.6 C980,765.1 979.5,764.9 980.5,777.6 C981.5,790.4 983.9,816.1 985.7,839.1 C987.6,862.1 990.6,902.9 991.5,915.6 L991.5,915.6 C991.7,910.2 991.8,898 992.4,883.1 C993.1,868.1 994.5,840.9 995.5,825.7 C996.5,810.5 997.6,800.9 998.6,791.6 C999.6,782.3 1000.8,775.1 1001.8,769.9 C1002.8,764.7 1003.9,762.2 1004.4,760.6 L1004.4,760.6 C1004.5,763.1 1004,762.7 1005,775.6 C1006,788.5 1008.6,814.8 1010.6,838.1 C1012.5,861.4 1015.8,902.7 1016.8,915.6 L1016.8,915.6 C1016.9,910.4 1017,898.7 1017.6,884.3 C1018.2,869.9 1019.5,843.8 1020.5,829.2 C1021.5,814.5 1022.4,805.3 1023.4,796.4 C1024.4,787.5 1025.5,780.5 1026.4,775.5 C1027.3,770.6 1028.4,768.1 1028.8,766.6 L1028.8,766.6 C1028.9,769.1 1028.4,769.2 1029.4,781.6 C1030.5,794 1033,818.8 1035,841.1 C1037,863.4 1040.2,903.2 1041.2,915.6 L1041.2,915.6 C1041.4,910.2 1041.5,898.3 1042.1,883.5 C1042.8,868.7 1044.2,841.9 1045.2,826.9 C1046.3,811.8 1047.3,802.4 1048.3,793.2 C1049.4,784 1050.6,776.9 1051.6,771.8 C1052.5,766.7 1053.7,764.1 1054.1,762.6 L1054.1,762.6 C1054.2,765.1 1053.8,764.9 1054.7,777.6 C1055.7,790.4 1058.1,816.1 1059.9,839.1 C1061.7,862.1 1064.7,902.9 1065.7,915.6 L1065.7,915.6 C1065.8,910.2 1065.9,898.1 1066.6,883.3 C1067.2,868.4 1068.6,841.4 1069.7,826.3 C1070.7,811.1 1071.7,801.6 1072.8,792.4 C1073.8,783.2 1075,776 1076,770.8 C1077,765.7 1078.1,763.1 1078.6,761.6 L1078.6,761.6 C1078.7,764.1 1078.2,763.8 1079.2,776.6 C1080.1,789.4 1082.5,815.4 1084.4,838.6 C1086.2,861.8 1089.2,902.8 1090.2,915.6 L1090.2,915.6 C1090.3,910.4 1090.4,898.7 1091.1,884.3 C1091.7,869.9 1093.1,843.8 1094.2,829.2 C1095.2,814.5 1096.2,805.3 1097.2,796.4 C1098.3,787.5 1099.5,780.5 1100.4,775.5 C1101.4,770.6 1102.6,768.1 1103,766.6 L1103,766.6 C1103.1,769.1 1102.6,769.2 1103.6,781.6 C1104.7,794 1107.3,818.8 1109.3,841.1 C1111.2,863.4 1114.5,903.2 1115.5,915.6 L1115.5,915.6 C1115.7,910.2 1115.8,898.3 1116.5,883.5 C1117.1,868.7 1118.6,841.9 1119.7,826.9 C1120.7,811.8 1121.8,802.4 1122.9,793.2 C1123.9,784 1125.2,776.9 1126.2,771.8 C1127.2,766.7 1128.4,764.1 1128.9,762.6 L1128.9,762.6 C1128.9,765.1 1128.5,764.9 1129.4,777.6 C1130.3,790.4 1132.6,816.1 1134.4,839.1 C1136.1,862.1 1138.9,902.9 1139.9,915.6" fill="none" stroke="#a77ee6" stroke-width="1.9" stroke-linejoin="round"/>
<rect x="885.8" y="736.4" width="260.9" height="180" fill="none" stroke="#222" stroke-width="2.4"/>
<text x="882.2" y="920.6" font-size="14" font-weight="bold" fill="#222" text-anchor="end">0.0</text>
<text x="882.2" y="890.6" font-size="14" font-weight="bold" fill="#222" text-anchor="end">0.3</text>
<text x="882.2" y="860.6" font-size="14" font-weight="bold" fill="#222" text-anchor="end">0.6</text>
<text x="882.2" y="830.6" font-size="14" font-weight="bold" fill="#222" text-anchor="end">0.9</text>
<text x="882.2" y="800.6" font-size="14" font-weight="bold" fill="#222" text-anchor="end">1.2</text>
<text x="882.2" y="770.6" font-size="14" font-weight="bold" fill="#222" text-anchor="end">1.5</text>
<text x="892" y="933.5" font-size="14" font-weight="bold" fill="#222" text-anchor="middle">0</text>
<text x="942.5" y="933.5" font-size="14" font-weight="bold" fill="#222" text-anchor="middle">50</text>
<text x="993" y="933.5" font-size="14" font-weight="bold" fill="#222" text-anchor="middle">100</text>
<text x="1043.4" y="933.5" font-size="14" font-weight="bold" fill="#222" text-anchor="middle">150</text>
<text x="1093.9" y="933.5" font-size="14" font-weight="bold" fill="#222" text-anchor="middle">200</text>
<text x="1144.4" y="933.5" font-size="14" font-weight="bold" fill="#222" text-anchor="middle">250</text>
<path d="M881.8,915.6 H885.8 M883.3,900.6 H885.8 M881.8,885.6 H885.8 M883.3,870.6 H885.8 M881.8,855.6 H885.8 M883.3,840.6 H885.8 M881.8,825.6 H885.8 M883.3,810.6 H885.8 M881.8,795.6 H885.8 M883.3,780.6 H885.8 M881.8,765.6 H885.8 M883.3,750.6 H885.8 M892,916.4 V920.4 M917.2,916.4 V918.9 M942.5,916.4 V920.4 M967.7,916.4 V918.9 M993,916.4 V920.4 M1018.2,916.4 V918.9 M1043.4,916.4 V920.4 M1068.7,916.4 V918.9 M1093.9,916.4 V920.4 M1119.2,916.4 V918.9 M1144.4,916.4 V920.4" stroke="#222" stroke-width="1.6" fill="none"/>
<path d="M948.9,748.9 H972.4" stroke="#a77ee6" stroke-width="2.2"/>
<text x="977.8" y="753.5" font-size="13" font-weight="bold" fill="#333" textLength="96.4" lengthAdjust="spacingAndGlyphs">Last ten cycles</text>
<text x="1016.6" y="950" font-size="15.5" font-weight="bold" fill="#222" text-anchor="middle" textLength="64.5" lengthAdjust="spacingAndGlyphs">Time (s)</text>
<text x="855" y="823.4" font-size="14.5" font-weight="bold" fill="#222" text-anchor="middle" textLength="91" lengthAdjust="spacingAndGlyphs" transform="rotate(-90 855 823.4)">Potential (V)</text>
<rect x="1390.2" y="604.4" width="474.4" height="365.2" fill="#e8f6d8"/>
<path d="M1390.2,957.6 H1864.6 M1390.2,908.7 H1864.6 M1390.2,859.8 H1864.6 M1390.2,810.9 H1864.6 M1390.2,762 H1864.6 M1390.2,713.1 H1864.6 M1390.2,664.2 H1864.6 M1390.2,615.3 H1864.6 M1478.2,604.4 V969.6 M1566,604.4 V969.6 M1653.7,604.4 V969.6 M1741.5,604.4 V969.6 M1829.2,604.4 V969.6" stroke="#a9b19e" stroke-width="1.1" stroke-dasharray="2 2.2" fill="none"/>
<path d="M1390.2,933.1 H1864.6 M1390.2,884.2 H1864.6 M1390.2,835.3 H1864.6 M1390.2,786.4 H1864.6 M1390.2,737.5 H1864.6 M1390.2,688.6 H1864.6 M1390.2,639.8 H1864.6 M1434.3,604.4 V969.6 M1522.1,604.4 V969.6 M1609.8,604.4 V969.6 M1697.6,604.4 V969.6 M1785.3,604.4 V969.6" stroke="#a9b19e" stroke-width="1.1" stroke-dasharray="4.5 4.5" fill="none"/>
<path d="M1549,651.1 L1618.7,672 L1689.8,682.2 L1759.5,688.8 L1829.7,698.6" stroke="#e2863a" stroke-width="3.6" stroke-linecap="round" stroke-dasharray="0.1 8.6" fill="none"/>
<path d="M1394,629.3 H1442" stroke="#e2863a" stroke-width="3.6" stroke-linecap="round" stroke-dasharray="0.1 8.6" fill="none"/>
<path d="M1482,841 L1484.6,847.4 L1491.5,847.9 L1486.3,852.4 L1487.9,859.1 L1482,855.5 L1476.1,859.1 L1477.7,852.4 L1472.5,847.9 L1479.4,847.4Z" fill="#22cc22"/>
<circle cx="1479" cy="856" r="8.5" fill="#ee1111"/>
<rect x="1469.6" y="849.9" width="18" height="15" fill="#2a18c8"/>
<path d="M1480.2,836.5 L1490.7,844.1 L1486.7,856.4 L1473.7,856.4 L1469.7,844.1Z" fill="#7a7a05"/>
<path d="M1472,847.5 L1491,857.5 L1472,868 Z" fill="#f88a10"/>
<path d="M1480.2,645.5 L1491,656.3 L1480.2,667.1 L1469.4,656.3 Z" fill="#1a8fe2"/>
<path d="M1536.6,705.5 L1555.5,695.2 V715.7 Z" fill="#f014f0"/>
<circle cx="1418.7" cy="629.3" r="9.8" fill="url(#gsph)"/>
<circle cx="1549" cy="651.1" r="9.8" fill="url(#gsph)"/>
<circle cx="1618.7" cy="672" r="9.8" fill="url(#gsph)"/>
<circle cx="1689.8" cy="682.2" r="9.8" fill="url(#gsph)"/>
<circle cx="1759.5" cy="688.8" r="9.8" fill="url(#gsph)"/>
<circle cx="1829.7" cy="698.6" r="9.8" fill="url(#gsph)"/>
<text x="1440.5" y="636" font-size="24" font-weight="bold" fill="#000" textLength="128.5" lengthAdjust="spacingAndGlyphs">2D Co-MOF</text>
<path d="M1604.5,756 H1645.5" stroke="#a8d4e0" stroke-width="2"/>
<path d="M1604.5,782.2 H1645.5" stroke="#a8d4e0" stroke-width="2"/>
<path d="M1604.5,808.4 H1645.5" stroke="#c49a88" stroke-width="2"/>
<path d="M1604.5,833.8 H1645.5" stroke="#88b4b4" stroke-width="2"/>
<path d="M1604.5,862 H1645.5" stroke="#b0d8e8" stroke-width="2"/>
<path d="M1604.5,887.1 H1645.5" stroke="#d0a890" stroke-width="2"/>
<path d="M1604.5,914.5 H1645.5" stroke="#d8c0a0" stroke-width="2"/>
<path d="M1623.8,745.5 L1633.8,752.8 L1630,764.5 L1617.6,764.5 L1613.8,752.8Z" fill="#7a7a05"/>
<path d="M1623.8,771.7 L1626.5,778.5 L1633.8,779 L1628.2,783.6 L1630,790.7 L1623.8,786.8 L1617.6,790.7 L1619.4,783.6 L1613.8,779 L1621.1,778.5Z" fill="#22cc22"/>
<circle cx="1623.8" cy="808.4" r="9.3" fill="#ee1111"/>
<rect x="1616.8" y="825.8" width="16" height="16" fill="#1010e6"/>
<path d="M1624.8,851 l11,11 l-11,11 l-11,-11 Z" fill="#1a8fe2"/>
<path d="M1614.8,887.1 L1633.8,876.6 V897.6 Z" fill="#f014f0"/>
<path d="M1636.8,914.5 L1617.8,903.5 V925.5 Z" fill="#f88a10"/>
<text x="1651.3" y="762.5" font-size="19.5" font-weight="bold" fill="#1a1a1a" textLength="95" lengthAdjust="spacingAndGlyphs">(NH<tspan font-size="13" baseline-shift="-5">4</tspan>)<tspan font-size="13" baseline-shift="-5">x</tspan>WO<tspan font-size="13" baseline-shift="-5">3</tspan></text>
<text x="1651.3" y="788.8" font-size="19.5" font-weight="bold" fill="#1a1a1a" textLength="97" lengthAdjust="spacingAndGlyphs">WO<tspan font-size="13" baseline-shift="-5">3</tspan>@ACC</text>
<text x="1651.3" y="815" font-size="19.5" font-weight="bold" fill="#1a1a1a" textLength="123" lengthAdjust="spacingAndGlyphs">h-Ti<tspan font-size="13" baseline-shift="-5">3</tspan>C<tspan font-size="13" baseline-shift="-5">2</tspan> Mxene</text>
<text x="1651.3" y="840.4" font-size="19.5" font-weight="bold" fill="#1a1a1a" textLength="65.5" lengthAdjust="spacingAndGlyphs">δ-MnO<tspan font-size="13" baseline-shift="-5">2</tspan></text>
<text x="1651.3" y="868.6" font-size="19.5" font-weight="bold" fill="#1a1a1a" textLength="157" lengthAdjust="spacingAndGlyphs">Co-MOF@MXCNF</text>
<text x="1651.3" y="893.6" font-size="19.5" font-weight="bold" fill="#1a1a1a" textLength="89.5" lengthAdjust="spacingAndGlyphs">Cu-HHB/I<tspan font-size="13" baseline-shift="-5">2</tspan></text>
<text x="1651.3" y="921" font-size="19.5" font-weight="bold" fill="#1a1a1a" textLength="154" lengthAdjust="spacingAndGlyphs">MOS<tspan font-size="13" baseline-shift="-5">2</tspan>@TiN/CNTF</text>
<rect x="1390.2" y="604.4" width="474.4" height="365.2" fill="none" stroke="#000" stroke-width="4.2"/>
<text x="1377.5" y="964.8" font-size="26" font-weight="bold" fill="#000" text-anchor="end">−20</text>
<text x="1377.5" y="915.9" font-size="26" font-weight="bold" fill="#000" text-anchor="end">−10</text>
<text x="1377.5" y="867" font-size="26" font-weight="bold" fill="#000" text-anchor="end">0</text>
<text x="1377.5" y="818.1" font-size="26" font-weight="bold" fill="#000" text-anchor="end">10</text>
<text x="1377.5" y="769.2" font-size="26" font-weight="bold" fill="#000" text-anchor="end">20</text>
<text x="1377.5" y="720.3" font-size="26" font-weight="bold" fill="#000" text-anchor="end">30</text>
<text x="1377.5" y="671.4" font-size="26" font-weight="bold" fill="#000" text-anchor="end">40</text>
<text x="1377.5" y="622.5" font-size="26" font-weight="bold" fill="#000" text-anchor="end">50</text>
<text x="1386.5" y="1001.8" font-size="26" font-weight="bold" fill="#000" text-anchor="middle">−1k</text>
<text x="1478.2" y="1001.8" font-size="26" font-weight="bold" fill="#000" text-anchor="middle">0</text>
<text x="1566" y="1001.8" font-size="26" font-weight="bold" fill="#000" text-anchor="middle">1k</text>
<text x="1653.7" y="1001.8" font-size="26" font-weight="bold" fill="#000" text-anchor="middle">2k</text>
<text x="1741.5" y="1001.8" font-size="26" font-weight="bold" fill="#000" text-anchor="middle">3k</text>
<text x="1829.2" y="1001.8" font-size="26" font-weight="bold" fill="#000" text-anchor="middle">4k</text>
<path d="M1384.2,957.6 H1390.2 M1386.7,933.1 H1390.2 M1384.2,908.7 H1390.2 M1386.7,884.2 H1390.2 M1384.2,859.8 H1390.2 M1386.7,835.3 H1390.2 M1384.2,810.9 H1390.2 M1386.7,786.4 H1390.2 M1384.2,762 H1390.2 M1386.7,737.5 H1390.2 M1384.2,713.1 H1390.2 M1386.7,688.6 H1390.2 M1384.2,664.2 H1390.2 M1386.7,639.8 H1390.2 M1384.2,615.3 H1390.2 M1390.5,969.6 V975.6 M1434.3,969.6 V973.1 M1478.2,969.6 V975.6 M1522.1,969.6 V973.1 M1566,969.6 V975.6 M1609.8,969.6 V973.1 M1653.7,969.6 V975.6 M1697.6,969.6 V973.1 M1741.5,969.6 V975.6 M1785.3,969.6 V973.1 M1829.2,969.6 V975.6" stroke="#000" stroke-width="3" fill="none"/>
<text x="1480.6" y="1027.3" font-size="28" font-weight="bold" textLength="293.3" lengthAdjust="spacingAndGlyphs">Power density W kg<tspan font-size="19" dy="-11">-1</tspan></text>
<text x="1323.5" y="948.7" font-size="29" font-weight="bold" textLength="320" lengthAdjust="spacingAndGlyphs" transform="rotate(-90 1323.5 948.7)">Energy density Wh kg<tspan font-size="19" dy="-11">-1</tspan></text>
<text x="1198" y="620.6" font-size="45" font-weight="bold" fill="#000">(e)</text>
</svg>
</body></html>
